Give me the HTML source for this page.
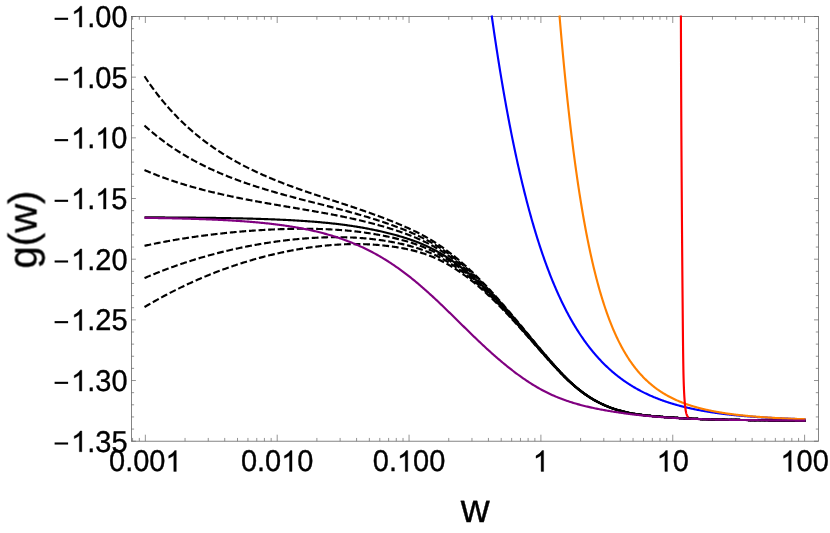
<!DOCTYPE html>
<html><head><meta charset="utf-8"><style>
html,body{margin:0;padding:0;background:#fff;}
svg{display:block}
text{font-family:"Liberation Sans",sans-serif;fill:#000;text-rendering:geometricPrecision}
</style></head><body>
<svg width="830" height="533" viewBox="0 0 830 533">
<rect width="830" height="533" fill="#fff"/>
<g fill="none" stroke="#666666" stroke-width="0.8">
<rect x="131.4" y="16.5" width="687.1" height="424.7"/>
<path d="M145.35 441.2 v-6.5 M145.35 16.5 v6.5 M185.04 441.2 v-3.25 M185.04 16.5 v3.25 M208.26 441.2 v-3.25 M208.26 16.5 v3.25 M224.73 441.2 v-3.25 M224.73 16.5 v3.25 M237.51 441.2 v-3.25 M237.51 16.5 v3.25 M247.95 441.2 v-3.25 M247.95 16.5 v3.25 M256.78 441.2 v-3.25 M256.78 16.5 v3.25 M264.42 441.2 v-3.25 M264.42 16.5 v3.25 M271.17 441.2 v-3.25 M271.17 16.5 v3.25 M277.20 441.2 v-6.5 M277.20 16.5 v6.5 M316.89 441.2 v-3.25 M316.89 16.5 v3.25 M340.11 441.2 v-3.25 M340.11 16.5 v3.25 M356.58 441.2 v-3.25 M356.58 16.5 v3.25 M369.36 441.2 v-3.25 M369.36 16.5 v3.25 M379.80 441.2 v-3.25 M379.80 16.5 v3.25 M388.63 441.2 v-3.25 M388.63 16.5 v3.25 M396.27 441.2 v-3.25 M396.27 16.5 v3.25 M403.02 441.2 v-3.25 M403.02 16.5 v3.25 M409.05 441.2 v-6.5 M409.05 16.5 v6.5 M448.74 441.2 v-3.25 M448.74 16.5 v3.25 M471.96 441.2 v-3.25 M471.96 16.5 v3.25 M488.43 441.2 v-3.25 M488.43 16.5 v3.25 M501.21 441.2 v-3.25 M501.21 16.5 v3.25 M511.65 441.2 v-3.25 M511.65 16.5 v3.25 M520.48 441.2 v-3.25 M520.48 16.5 v3.25 M528.12 441.2 v-3.25 M528.12 16.5 v3.25 M534.87 441.2 v-3.25 M534.87 16.5 v3.25 M540.90 441.2 v-6.5 M540.90 16.5 v6.5 M580.59 441.2 v-3.25 M580.59 16.5 v3.25 M603.81 441.2 v-3.25 M603.81 16.5 v3.25 M620.28 441.2 v-3.25 M620.28 16.5 v3.25 M633.06 441.2 v-3.25 M633.06 16.5 v3.25 M643.50 441.2 v-3.25 M643.50 16.5 v3.25 M652.33 441.2 v-3.25 M652.33 16.5 v3.25 M659.97 441.2 v-3.25 M659.97 16.5 v3.25 M666.72 441.2 v-3.25 M666.72 16.5 v3.25 M672.75 441.2 v-6.5 M672.75 16.5 v6.5 M712.44 441.2 v-3.25 M712.44 16.5 v3.25 M735.66 441.2 v-3.25 M735.66 16.5 v3.25 M752.13 441.2 v-3.25 M752.13 16.5 v3.25 M764.91 441.2 v-3.25 M764.91 16.5 v3.25 M775.35 441.2 v-3.25 M775.35 16.5 v3.25 M784.18 441.2 v-3.25 M784.18 16.5 v3.25 M791.82 441.2 v-3.25 M791.82 16.5 v3.25 M798.57 441.2 v-3.25 M798.57 16.5 v3.25 M804.60 441.2 v-6.5 M804.60 16.5 v6.5 M132.57 441.2 v-3.25 M132.57 16.5 v3.25 M139.32 441.2 v-3.25 M139.32 16.5 v3.25 M131.4 16.50 h4.5 M818.5 16.50 h-4.5 M131.4 28.63 h2.7 M818.5 28.63 h-2.7 M131.4 40.77 h2.7 M818.5 40.77 h-2.7 M131.4 52.90 h2.7 M818.5 52.90 h-2.7 M131.4 65.04 h2.7 M818.5 65.04 h-2.7 M131.4 77.17 h4.5 M818.5 77.17 h-4.5 M131.4 89.31 h2.7 M818.5 89.31 h-2.7 M131.4 101.44 h2.7 M818.5 101.44 h-2.7 M131.4 113.57 h2.7 M818.5 113.57 h-2.7 M131.4 125.71 h2.7 M818.5 125.71 h-2.7 M131.4 137.84 h4.5 M818.5 137.84 h-4.5 M131.4 149.98 h2.7 M818.5 149.98 h-2.7 M131.4 162.11 h2.7 M818.5 162.11 h-2.7 M131.4 174.25 h2.7 M818.5 174.25 h-2.7 M131.4 186.38 h2.7 M818.5 186.38 h-2.7 M131.4 198.51 h4.5 M818.5 198.51 h-4.5 M131.4 210.65 h2.7 M818.5 210.65 h-2.7 M131.4 222.78 h2.7 M818.5 222.78 h-2.7 M131.4 234.92 h2.7 M818.5 234.92 h-2.7 M131.4 247.05 h2.7 M818.5 247.05 h-2.7 M131.4 259.19 h4.5 M818.5 259.19 h-4.5 M131.4 271.32 h2.7 M818.5 271.32 h-2.7 M131.4 283.45 h2.7 M818.5 283.45 h-2.7 M131.4 295.59 h2.7 M818.5 295.59 h-2.7 M131.4 307.72 h2.7 M818.5 307.72 h-2.7 M131.4 319.86 h4.5 M818.5 319.86 h-4.5 M131.4 331.99 h2.7 M818.5 331.99 h-2.7 M131.4 344.13 h2.7 M818.5 344.13 h-2.7 M131.4 356.26 h2.7 M818.5 356.26 h-2.7 M131.4 368.39 h2.7 M818.5 368.39 h-2.7 M131.4 380.53 h4.5 M818.5 380.53 h-4.5 M131.4 392.66 h2.7 M818.5 392.66 h-2.7 M131.4 404.80 h2.7 M818.5 404.80 h-2.7 M131.4 416.93 h2.7 M818.5 416.93 h-2.7 M131.4 429.07 h2.7 M818.5 429.07 h-2.7 M131.4 441.20 h4.5 M818.5 441.20 h-4.5" stroke="#666666" stroke-width="0.7"/>
</g>
<g fill="none" stroke-linejoin="round">
<g stroke="#000" stroke-width="2.15" stroke-dasharray="6.8 2.8">
<path d="M144.50 76.26 L145.50 77.77 L146.50 79.26 L147.50 80.73 L148.50 82.19 L149.50 83.62 L150.50 85.04 L151.50 86.43 L152.50 87.82 L153.50 89.18 L154.50 90.53 L155.50 91.86 L156.50 93.17 L157.50 94.47 L158.50 95.75 L159.50 97.01 L160.50 98.26 L161.50 99.50 L162.50 100.72 L163.50 101.93 L164.50 103.12 L165.50 104.29 L166.50 105.46 L167.50 106.61 L168.50 107.74 L169.50 108.87 L170.50 109.98 L171.50 111.07 L172.50 112.16 L173.50 113.23 L174.50 114.28 L175.50 115.33 L176.50 116.37 L177.50 117.39 L178.50 118.40 L179.50 119.40 L180.50 120.39 L181.50 121.36 L182.50 122.33 L183.50 123.29 L184.50 124.23 L185.50 125.16 L186.50 126.09 L187.50 127.00 L188.50 127.90 L189.50 128.80 L190.50 129.68 L191.50 130.56 L192.50 131.42 L193.50 132.28 L194.50 133.12 L195.50 133.96 L196.50 134.79 L197.50 135.61 L198.50 136.42 L199.50 137.22 L200.50 138.01 L201.50 138.80 L202.50 139.57 L203.50 140.34 L204.50 141.10 L205.50 141.86 L206.50 142.60 L207.50 143.34 L208.50 144.07 L209.50 144.79 L210.50 145.50 L211.50 146.21 L212.50 146.91 L213.50 147.61 L214.50 148.29 L215.50 148.97 L216.50 149.65 L217.50 150.31 L218.50 150.97 L219.50 151.63 L220.50 152.27 L221.50 152.91 L222.50 153.55 L223.50 154.17 L224.50 154.80 L225.50 155.41 L226.50 156.02 L227.50 156.63 L228.50 157.23 L229.50 157.82 L230.50 158.41 L231.50 158.99 L232.50 159.57 L233.50 160.14 L234.50 160.70 L235.50 161.27 L236.50 161.82 L237.50 162.37 L238.50 162.92 L239.50 163.46 L240.50 164.00 L241.50 164.53 L242.50 165.05 L243.50 165.58 L244.50 166.09 L245.50 166.61 L246.50 167.11 L247.50 167.62 L248.50 168.12 L249.50 168.62 L250.50 169.11 L251.50 169.59 L252.50 170.08 L253.50 170.56 L254.50 171.03 L255.50 171.50 L256.50 171.97 L257.50 172.44 L258.50 172.90 L259.50 173.35 L260.50 173.81 L261.50 174.26 L262.50 174.70 L263.50 175.15 L264.50 175.59 L265.50 176.02 L266.50 176.46 L267.50 176.89 L268.50 177.31 L269.50 177.74 L270.50 178.16 L271.50 178.58 L272.50 178.99 L273.50 179.40 L274.50 179.81 L275.50 180.22 L276.50 180.62 L277.50 181.02 L278.50 181.42 L279.50 181.82 L280.50 182.21 L281.50 182.60 L282.50 182.99 L283.50 183.38 L284.50 183.76 L285.50 184.14 L286.50 184.52 L287.50 184.90 L288.50 185.27 L289.50 185.64 L290.50 186.02 L291.50 186.38 L292.50 186.75 L293.50 187.12 L294.50 187.48 L295.50 187.84 L296.50 188.20 L297.50 188.56 L298.50 188.91 L299.50 189.27 L300.50 189.62 L301.50 189.97 L302.50 190.32 L303.50 190.67 L304.50 191.02 L305.50 191.37 L306.50 191.71 L307.50 192.05 L308.50 192.40 L309.50 192.74 L310.50 193.08 L311.50 193.42 L312.50 193.75 L313.50 194.09 L314.50 194.43 L315.50 194.76 L316.50 195.10 L317.50 195.43 L318.50 195.76 L319.50 196.09 L320.50 196.43 L321.50 196.76 L322.50 197.09 L323.50 197.42 L324.50 197.75 L325.50 198.07 L326.50 198.40 L327.50 198.73 L328.50 199.06 L329.50 199.39 L330.50 199.71 L331.50 200.04 L332.50 200.37 L333.50 200.70 L334.50 201.02 L335.50 201.35 L336.50 201.68 L337.50 202.01 L338.50 202.33 L339.50 202.66 L340.50 202.99 L341.50 203.32 L342.50 203.65 L343.50 203.98 L344.50 204.31 L345.50 204.64 L346.50 204.97 L347.50 205.30 L348.50 205.63 L349.50 205.97 L350.50 206.30 L351.50 206.63 L352.50 206.97 L353.50 207.31 L354.50 207.64 L355.50 207.98 L356.50 208.32 L357.50 208.66 L358.50 209.00 L359.50 209.34 L360.50 209.69 L361.50 210.03 L362.50 210.38 L363.50 210.73 L364.50 211.08 L365.50 211.43 L366.50 211.78 L367.50 212.13 L368.50 212.48 L369.50 212.84 L370.50 213.20 L371.50 213.55 L372.50 213.92 L373.50 214.28 L374.50 214.64 L375.50 215.01 L376.50 215.37 L377.50 215.74 L378.50 216.11 L379.50 216.48 L380.50 216.86 L381.50 217.23 L382.50 217.61 L383.50 217.99 L384.50 218.37 L385.50 218.76 L386.50 219.14 L387.50 219.53 L388.50 219.92 L389.50 220.31 L390.50 220.71 L391.50 221.10 L392.50 221.50 L393.50 221.91 L394.50 222.31 L395.50 222.72 L396.50 223.13 L397.50 223.54 L398.50 223.96 L399.50 224.37 L400.50 224.80 L401.50 225.22 L402.50 225.65 L403.50 226.08 L404.50 226.52 L405.50 226.96 L406.50 227.40 L407.50 227.85 L408.50 228.30 L409.50 228.75 L410.50 229.21 L411.50 229.68 L412.50 230.15 L413.50 230.63 L414.50 231.11 L415.50 231.59 L416.50 232.08 L417.50 232.58 L418.50 233.08 L419.50 233.59 L420.50 234.11 L421.50 234.63 L422.50 235.16 L423.50 235.70 L424.50 236.24 L425.50 236.79 L426.50 237.35 L427.50 237.91 L428.50 238.49 L429.50 239.07 L430.50 239.66 L431.50 240.26 L432.50 240.86 L433.50 241.48 L434.50 242.10 L435.50 242.73 L436.50 243.37 L437.50 244.02 L438.50 244.68 L439.50 245.35 L440.50 246.02 L441.50 246.71 L442.50 247.40 L443.50 248.11 L444.50 248.82 L445.50 249.54 L446.50 250.27 L447.50 251.01 L448.50 251.76 L449.50 252.52 L450.50 253.29 L451.50 254.07 L452.50 254.85 L453.50 255.65 L454.50 256.45 L455.50 257.26 L456.50 258.08 L457.50 258.91 L458.50 259.75 L459.50 260.60 L460.50 261.45 L461.50 262.32 L462.50 263.19 L463.50 264.07 L464.50 264.95 L465.50 265.85 L466.50 266.75 L467.50 267.67 L468.50 268.58 L469.50 269.51 L470.50 270.45 L471.50 271.39 L472.50 272.34 L473.50 273.29 L474.50 274.26 L475.50 275.23 L476.50 276.21 L477.50 277.19 L478.50 278.18 L479.50 279.18 L480.50 280.19 L481.50 281.20 L482.50 282.22 L483.50 283.24 L484.50 284.28 L485.50 285.31 L486.50 286.36 L487.50 287.41 L488.50 288.47 L489.50 289.53 L490.50 290.60 L491.50 291.68 L492.50 292.76 L493.50 293.85 L494.50 294.95 L495.50 296.05 L496.50 297.15 L497.50 298.26 L498.50 299.38 L499.50 300.50 L500.50 301.63 L501.50 302.77 L502.50 303.90 L503.50 305.05 L504.50 306.19 L505.50 307.35 L506.50 308.50 L507.50 309.67 L508.50 310.83 L509.50 312.00 L510.50 313.18 L511.50 314.35 L512.50 315.53 L513.50 316.72 L514.50 317.91 L515.50 319.10 L516.50 320.29 L517.50 321.49 L518.50 322.68 L519.50 323.88 L520.50 325.09 L521.50 326.29 L522.50 327.50 L523.50 328.70 L524.50 329.91 L525.50 331.12 L526.50 332.33 L527.50 333.54 L528.50 334.75 L529.50 335.96 L530.50 337.16 L531.50 338.37 L532.50 339.58 L533.50 340.78 L534.50 341.99 L535.50 343.19 L536.50 344.39 L537.50 345.59 L538.50 346.79 L539.50 347.98 L540.50 349.17 L541.50 350.36 L542.50 351.54 L543.50 352.72 L544.50 353.90 L545.50 355.07 L546.50 356.24 L547.50 357.41 L548.50 358.57 L549.50 359.72 L550.50 360.87 L551.50 362.02 L552.50 363.16 L553.50 364.29 L554.50 365.42 L555.50 366.54 L556.50 367.65 L557.50 368.75 L558.50 369.84 L559.50 370.93 L560.50 372.00 L561.50 373.06 L562.50 374.11 L563.50 375.15 L564.50 376.18 L565.50 377.20 L566.50 378.20 L567.50 379.18 L568.50 380.16 L569.50 381.11 L570.50 382.06 L571.50 382.99 L572.50 383.90 L573.50 384.80 L574.50 385.68 L575.50 386.55 L576.50 387.40 L577.50 388.24 L578.50 389.06 L579.50 389.86 L580.50 390.65 L581.50 391.43 L582.50 392.18 L583.50 392.93 L584.50 393.66 L585.50 394.37 L586.50 395.07 L587.50 395.75 L588.50 396.42 L589.50 397.08 L590.50 397.71 L591.50 398.34 L592.50 398.95 L593.50 399.54 L594.50 400.13 L595.50 400.69 L596.50 401.25 L597.50 401.79 L598.50 402.31 L599.50 402.82 L600.50 403.32 L601.50 403.81 L602.50 404.28 L603.50 404.74 L604.50 405.19 L605.50 405.63 L606.50 406.05 L607.50 406.46 L608.50 406.86 L609.50 407.25 L610.50 407.63 L611.50 407.99 L612.50 408.35 L613.50 408.69 L614.50 409.03 L615.50 409.35 L616.50 409.66 L617.50 409.97 L618.50 410.26 L619.50 410.55 L620.50 410.83 L621.50 411.09 L622.50 411.35 L623.50 411.61 L624.50 411.85 L625.50 412.08 L626.50 412.31 L627.50 412.53 L628.50 412.74 L629.50 412.95 L630.50 413.15 L631.50 413.34 L632.50 413.52 L633.50 413.70 L634.50 413.87 L635.50 414.04 L636.50 414.19 L637.50 414.35 L638.50 414.49 L639.50 414.64 L640.50 414.77 L641.50 414.90 L642.50 415.03 L643.50 415.15 L644.50 415.27 L645.50 415.38 L646.50 415.49 L647.50 415.60 L648.50 415.70 L649.50 415.80 L650.50 415.89 L651.50 415.99 L652.50 416.08 L653.50 416.17 L654.50 416.26 L655.50 416.34 L656.50 416.43 L657.50 416.51 L658.50 416.59 L659.50 416.67 L660.50 416.75 L661.50 416.83 L662.50 416.91 L663.50 416.98 L664.50 417.06 L665.50 417.13 L666.50 417.20 L667.50 417.28 L668.50 417.35 L669.50 417.42 L670.50 417.49 L671.50 417.55 L672.50 417.62 L673.50 417.69 L674.50 417.75 L675.50 417.82 L676.50 417.88 L677.50 417.94 L678.50 418.00 L679.50 418.06 L680.50 418.12 L681.50 418.18 L682.50 418.23 L683.50 418.29 L684.50 418.34 L685.50 418.39 L686.50 418.45 L687.50 418.50 L688.50 418.55 L689.50 418.59 L690.50 418.64 L691.50 418.69 L692.50 418.73 L693.50 418.78 L694.50 418.82 L695.50 418.86 L696.50 418.90 L697.50 418.94 L698.50 418.98 L699.50 419.02 L700.50 419.06 L701.50 419.09 L702.50 419.13 L703.50 419.16 L704.50 419.19 L705.50 419.23 L706.50 419.26 L707.50 419.29 L708.50 419.32 L709.50 419.35 L710.50 419.37 L711.50 419.40 L712.50 419.43 L713.50 419.45 L714.50 419.48 L715.50 419.50 L716.50 419.52 L717.50 419.55 L718.50 419.57 L719.50 419.59 L720.50 419.61 L721.50 419.63 L722.50 419.65 L723.50 419.67 L724.50 419.69 L725.50 419.71 L726.50 419.73 L727.50 419.74 L728.50 419.76 L729.50 419.78 L730.50 419.80 L731.50 419.81 L732.50 419.83 L733.50 419.84 L734.50 419.86 L735.50 419.88 L736.50 419.89 L737.50 419.91 L738.50 419.92 L739.50 419.94 L740.50 419.95 L741.50 419.97 L742.50 419.98 L743.50 419.99 L744.50 420.01 L745.50 420.02 L746.50 420.04 L747.50 420.05 L748.50 420.06 L749.50 420.08 L750.50 420.09 L751.50 420.10 L752.50 420.12 L753.50 420.13 L754.50 420.14 L755.50 420.16 L756.50 420.17 L757.50 420.18 L758.50 420.19 L759.50 420.21 L760.50 420.22 L761.50 420.23 L762.50 420.24 L763.50 420.25 L764.50 420.27 L765.50 420.28 L766.50 420.29 L767.50 420.30 L768.50 420.31 L769.50 420.32 L770.50 420.33 L771.50 420.34 L772.50 420.35 L773.50 420.36 L774.50 420.37 L775.50 420.38 L776.50 420.39 L777.50 420.40 L778.50 420.41 L779.50 420.42 L780.50 420.43 L781.50 420.44 L782.50 420.45 L783.50 420.46 L784.50 420.47 L785.50 420.47 L786.50 420.48 L787.50 420.49 L788.50 420.50 L789.50 420.51 L790.50 420.52 L791.50 420.52 L792.50 420.53 L793.50 420.54 L794.50 420.55 L795.50 420.55 L796.50 420.56 L797.50 420.57 L798.50 420.58 L799.50 420.58 L800.50 420.59 L801.50 420.60 L802.50 420.60 L803.50 420.61 L804.50 420.61 L805.50 420.62 L805.60 420.62"/><path d="M144.50 125.54 L145.50 126.45 L146.50 127.35 L147.50 128.24 L148.50 129.12 L149.50 129.99 L150.50 130.85 L151.50 131.70 L152.50 132.54 L153.50 133.37 L154.50 134.19 L155.50 135.00 L156.50 135.81 L157.50 136.61 L158.50 137.39 L159.50 138.17 L160.50 138.94 L161.50 139.70 L162.50 140.46 L163.50 141.20 L164.50 141.94 L165.50 142.67 L166.50 143.40 L167.50 144.11 L168.50 144.82 L169.50 145.52 L170.50 146.21 L171.50 146.90 L172.50 147.58 L173.50 148.25 L174.50 148.91 L175.50 149.57 L176.50 150.22 L177.50 150.87 L178.50 151.50 L179.50 152.14 L180.50 152.76 L181.50 153.38 L182.50 153.99 L183.50 154.60 L184.50 155.20 L185.50 155.79 L186.50 156.38 L187.50 156.96 L188.50 157.54 L189.50 158.11 L190.50 158.68 L191.50 159.24 L192.50 159.79 L193.50 160.34 L194.50 160.89 L195.50 161.42 L196.50 161.96 L197.50 162.49 L198.50 163.01 L199.50 163.53 L200.50 164.04 L201.50 164.55 L202.50 165.05 L203.50 165.55 L204.50 166.05 L205.50 166.54 L206.50 167.02 L207.50 167.50 L208.50 167.98 L209.50 168.45 L210.50 168.92 L211.50 169.38 L212.50 169.84 L213.50 170.30 L214.50 170.75 L215.50 171.20 L216.50 171.64 L217.50 172.08 L218.50 172.51 L219.50 172.94 L220.50 173.37 L221.50 173.80 L222.50 174.22 L223.50 174.63 L224.50 175.05 L225.50 175.46 L226.50 175.86 L227.50 176.26 L228.50 176.66 L229.50 177.06 L230.50 177.45 L231.50 177.84 L232.50 178.23 L233.50 178.61 L234.50 178.99 L235.50 179.37 L236.50 179.74 L237.50 180.11 L238.50 180.48 L239.50 180.84 L240.50 181.21 L241.50 181.57 L242.50 181.92 L243.50 182.28 L244.50 182.63 L245.50 182.98 L246.50 183.32 L247.50 183.67 L248.50 184.01 L249.50 184.35 L250.50 184.68 L251.50 185.01 L252.50 185.35 L253.50 185.68 L254.50 186.00 L255.50 186.33 L256.50 186.65 L257.50 186.97 L258.50 187.29 L259.50 187.60 L260.50 187.92 L261.50 188.23 L262.50 188.54 L263.50 188.84 L264.50 189.15 L265.50 189.45 L266.50 189.76 L267.50 190.06 L268.50 190.35 L269.50 190.65 L270.50 190.95 L271.50 191.24 L272.50 191.53 L273.50 191.82 L274.50 192.11 L275.50 192.40 L276.50 192.68 L277.50 192.97 L278.50 193.25 L279.50 193.53 L280.50 193.81 L281.50 194.09 L282.50 194.37 L283.50 194.64 L284.50 194.92 L285.50 195.19 L286.50 195.46 L287.50 195.74 L288.50 196.01 L289.50 196.28 L290.50 196.54 L291.50 196.81 L292.50 197.08 L293.50 197.34 L294.50 197.61 L295.50 197.87 L296.50 198.13 L297.50 198.40 L298.50 198.66 L299.50 198.92 L300.50 199.18 L301.50 199.44 L302.50 199.70 L303.50 199.96 L304.50 200.22 L305.50 200.47 L306.50 200.73 L307.50 200.99 L308.50 201.24 L309.50 201.50 L310.50 201.75 L311.50 202.01 L312.50 202.26 L313.50 202.52 L314.50 202.77 L315.50 203.03 L316.50 203.28 L317.50 203.54 L318.50 203.79 L319.50 204.05 L320.50 204.30 L321.50 204.56 L322.50 204.81 L323.50 205.07 L324.50 205.32 L325.50 205.58 L326.50 205.84 L327.50 206.09 L328.50 206.35 L329.50 206.61 L330.50 206.86 L331.50 207.12 L332.50 207.38 L333.50 207.64 L334.50 207.90 L335.50 208.16 L336.50 208.42 L337.50 208.68 L338.50 208.95 L339.50 209.21 L340.50 209.47 L341.50 209.74 L342.50 210.01 L343.50 210.27 L344.50 210.54 L345.50 210.81 L346.50 211.08 L347.50 211.35 L348.50 211.63 L349.50 211.90 L350.50 212.17 L351.50 212.45 L352.50 212.73 L353.50 213.01 L354.50 213.29 L355.50 213.57 L356.50 213.85 L357.50 214.14 L358.50 214.43 L359.50 214.71 L360.50 215.00 L361.50 215.30 L362.50 215.59 L363.50 215.88 L364.50 216.18 L365.50 216.48 L366.50 216.78 L367.50 217.08 L368.50 217.39 L369.50 217.69 L370.50 218.00 L371.50 218.31 L372.50 218.62 L373.50 218.93 L374.50 219.25 L375.50 219.57 L376.50 219.89 L377.50 220.21 L378.50 220.53 L379.50 220.86 L380.50 221.19 L381.50 221.52 L382.50 221.85 L383.50 222.19 L384.50 222.53 L385.50 222.87 L386.50 223.21 L387.50 223.55 L388.50 223.90 L389.50 224.25 L390.50 224.60 L391.50 224.96 L392.50 225.32 L393.50 225.68 L394.50 226.04 L395.50 226.41 L396.50 226.78 L397.50 227.15 L398.50 227.53 L399.50 227.91 L400.50 228.29 L401.50 228.68 L402.50 229.07 L403.50 229.46 L404.50 229.86 L405.50 230.26 L406.50 230.67 L407.50 231.08 L408.50 231.49 L409.50 231.91 L410.50 232.34 L411.50 232.77 L412.50 233.20 L413.50 233.64 L414.50 234.09 L415.50 234.54 L416.50 234.99 L417.50 235.46 L418.50 235.93 L419.50 236.40 L420.50 236.89 L421.50 237.37 L422.50 237.87 L423.50 238.37 L424.50 238.89 L425.50 239.40 L426.50 239.93 L427.50 240.46 L428.50 241.01 L429.50 241.56 L430.50 242.11 L431.50 242.68 L432.50 243.26 L433.50 243.84 L434.50 244.43 L435.50 245.04 L436.50 245.65 L437.50 246.27 L438.50 246.89 L439.50 247.53 L440.50 248.18 L441.50 248.84 L442.50 249.50 L443.50 250.18 L444.50 250.86 L445.50 251.56 L446.50 252.26 L447.50 252.98 L448.50 253.70 L449.50 254.43 L450.50 255.17 L451.50 255.92 L452.50 256.68 L453.50 257.45 L454.50 258.23 L455.50 259.01 L456.50 259.81 L457.50 260.61 L458.50 261.43 L459.50 262.25 L460.50 263.08 L461.50 263.92 L462.50 264.77 L463.50 265.62 L464.50 266.48 L465.50 267.36 L466.50 268.24 L467.50 269.12 L468.50 270.02 L469.50 270.92 L470.50 271.84 L471.50 272.76 L472.50 273.68 L473.50 274.62 L474.50 275.56 L475.50 276.51 L476.50 277.46 L477.50 278.43 L478.50 279.40 L479.50 280.38 L480.50 281.36 L481.50 282.35 L482.50 283.35 L483.50 284.36 L484.50 285.37 L485.50 286.39 L486.50 287.41 L487.50 288.45 L488.50 289.48 L489.50 290.53 L490.50 291.58 L491.50 292.64 L492.50 293.70 L493.50 294.77 L494.50 295.85 L495.50 296.93 L496.50 298.02 L497.50 299.11 L498.50 300.21 L499.50 301.32 L500.50 302.43 L501.50 303.55 L502.50 304.67 L503.50 305.80 L504.50 306.93 L505.50 308.06 L506.50 309.21 L507.50 310.35 L508.50 311.50 L509.50 312.66 L510.50 313.82 L511.50 314.98 L512.50 316.14 L513.50 317.31 L514.50 318.49 L515.50 319.66 L516.50 320.84 L517.50 322.03 L518.50 323.21 L519.50 324.40 L520.50 325.59 L521.50 326.78 L522.50 327.97 L523.50 329.17 L524.50 330.36 L525.50 331.56 L526.50 332.75 L527.50 333.95 L528.50 335.15 L529.50 336.35 L530.50 337.54 L531.50 338.74 L532.50 339.94 L533.50 341.13 L534.50 342.33 L535.50 343.52 L536.50 344.71 L537.50 345.90 L538.50 347.08 L539.50 348.27 L540.50 349.45 L541.50 350.63 L542.50 351.80 L543.50 352.98 L544.50 354.15 L545.50 355.31 L546.50 356.47 L547.50 357.63 L548.50 358.78 L549.50 359.93 L550.50 361.07 L551.50 362.21 L552.50 363.34 L553.50 364.47 L554.50 365.59 L555.50 366.70 L556.50 367.80 L557.50 368.90 L558.50 369.99 L559.50 371.06 L560.50 372.13 L561.50 373.19 L562.50 374.24 L563.50 375.27 L564.50 376.29 L565.50 377.30 L566.50 378.30 L567.50 379.28 L568.50 380.25 L569.50 381.20 L570.50 382.14 L571.50 383.07 L572.50 383.98 L573.50 384.87 L574.50 385.75 L575.50 386.61 L576.50 387.46 L577.50 388.29 L578.50 389.11 L579.50 389.92 L580.50 390.70 L581.50 391.47 L582.50 392.23 L583.50 392.97 L584.50 393.70 L585.50 394.41 L586.50 395.11 L587.50 395.79 L588.50 396.45 L589.50 397.11 L590.50 397.74 L591.50 398.36 L592.50 398.97 L593.50 399.57 L594.50 400.15 L595.50 400.71 L596.50 401.26 L597.50 401.80 L598.50 402.33 L599.50 402.84 L600.50 403.34 L601.50 403.82 L602.50 404.29 L603.50 404.75 L604.50 405.20 L605.50 405.63 L606.50 406.06 L607.50 406.47 L608.50 406.87 L609.50 407.25 L610.50 407.63 L611.50 408.00 L612.50 408.35 L613.50 408.70 L614.50 409.03 L615.50 409.35 L616.50 409.67 L617.50 409.97 L618.50 410.27 L619.50 410.55 L620.50 410.83 L621.50 411.10 L622.50 411.36 L623.50 411.61 L624.50 411.85 L625.50 412.09 L626.50 412.31 L627.50 412.53 L628.50 412.74 L629.50 412.95 L630.50 413.15 L631.50 413.34 L632.50 413.52 L633.50 413.70 L634.50 413.87 L635.50 414.04 L636.50 414.19 L637.50 414.35 L638.50 414.49 L639.50 414.64 L640.50 414.77 L641.50 414.90 L642.50 415.03 L643.50 415.15 L644.50 415.27 L645.50 415.38 L646.50 415.49 L647.50 415.60 L648.50 415.70 L649.50 415.80 L650.50 415.90 L651.50 415.99 L652.50 416.08 L653.50 416.17 L654.50 416.26 L655.50 416.34 L656.50 416.43 L657.50 416.51 L658.50 416.59 L659.50 416.67 L660.50 416.75 L661.50 416.83 L662.50 416.91 L663.50 416.98 L664.50 417.06 L665.50 417.13 L666.50 417.20 L667.50 417.28 L668.50 417.35 L669.50 417.42 L670.50 417.49 L671.50 417.55 L672.50 417.62 L673.50 417.69 L674.50 417.75 L675.50 417.82 L676.50 417.88 L677.50 417.94 L678.50 418.00 L679.50 418.06 L680.50 418.12 L681.50 418.18 L682.50 418.23 L683.50 418.29 L684.50 418.34 L685.50 418.39 L686.50 418.45 L687.50 418.50 L688.50 418.55 L689.50 418.59 L690.50 418.64 L691.50 418.69 L692.50 418.73 L693.50 418.78 L694.50 418.82 L695.50 418.86 L696.50 418.90 L697.50 418.94 L698.50 418.98 L699.50 419.02 L700.50 419.06 L701.50 419.09 L702.50 419.13 L703.50 419.16 L704.50 419.19 L705.50 419.23 L706.50 419.26 L707.50 419.29 L708.50 419.32 L709.50 419.35 L710.50 419.37 L711.50 419.40 L712.50 419.43 L713.50 419.45 L714.50 419.48 L715.50 419.50 L716.50 419.52 L717.50 419.55 L718.50 419.57 L719.50 419.59 L720.50 419.61 L721.50 419.63 L722.50 419.65 L723.50 419.67 L724.50 419.69 L725.50 419.71 L726.50 419.73 L727.50 419.74 L728.50 419.76 L729.50 419.78 L730.50 419.80 L731.50 419.81 L732.50 419.83 L733.50 419.84 L734.50 419.86 L735.50 419.88 L736.50 419.89 L737.50 419.91 L738.50 419.92 L739.50 419.94 L740.50 419.95 L741.50 419.97 L742.50 419.98 L743.50 419.99 L744.50 420.01 L745.50 420.02 L746.50 420.04 L747.50 420.05 L748.50 420.06 L749.50 420.08 L750.50 420.09 L751.50 420.10 L752.50 420.12 L753.50 420.13 L754.50 420.14 L755.50 420.16 L756.50 420.17 L757.50 420.18 L758.50 420.19 L759.50 420.21 L760.50 420.22 L761.50 420.23 L762.50 420.24 L763.50 420.25 L764.50 420.27 L765.50 420.28 L766.50 420.29 L767.50 420.30 L768.50 420.31 L769.50 420.32 L770.50 420.33 L771.50 420.34 L772.50 420.35 L773.50 420.36 L774.50 420.37 L775.50 420.38 L776.50 420.39 L777.50 420.40 L778.50 420.41 L779.50 420.42 L780.50 420.43 L781.50 420.44 L782.50 420.45 L783.50 420.46 L784.50 420.47 L785.50 420.47 L786.50 420.48 L787.50 420.49 L788.50 420.50 L789.50 420.51 L790.50 420.52 L791.50 420.52 L792.50 420.53 L793.50 420.54 L794.50 420.55 L795.50 420.55 L796.50 420.56 L797.50 420.57 L798.50 420.58 L799.50 420.58 L800.50 420.59 L801.50 420.60 L802.50 420.60 L803.50 420.61 L804.50 420.61 L805.50 420.62 L805.60 420.62"/><path d="M144.50 170.04 L145.50 170.48 L146.50 170.91 L147.50 171.33 L148.50 171.76 L149.50 172.17 L150.50 172.59 L151.50 173.00 L152.50 173.41 L153.50 173.81 L154.50 174.21 L155.50 174.60 L156.50 174.99 L157.50 175.38 L158.50 175.77 L159.50 176.15 L160.50 176.52 L161.50 176.90 L162.50 177.27 L163.50 177.63 L164.50 178.00 L165.50 178.36 L166.50 178.71 L167.50 179.07 L168.50 179.42 L169.50 179.77 L170.50 180.11 L171.50 180.45 L172.50 180.79 L173.50 181.12 L174.50 181.46 L175.50 181.79 L176.50 182.11 L177.50 182.43 L178.50 182.76 L179.50 183.07 L180.50 183.39 L181.50 183.70 L182.50 184.01 L183.50 184.32 L184.50 184.62 L185.50 184.92 L186.50 185.22 L187.50 185.52 L188.50 185.81 L189.50 186.10 L190.50 186.39 L191.50 186.68 L192.50 186.96 L193.50 187.24 L194.50 187.52 L195.50 187.80 L196.50 188.07 L197.50 188.35 L198.50 188.62 L199.50 188.88 L200.50 189.15 L201.50 189.41 L202.50 189.67 L203.50 189.93 L204.50 190.19 L205.50 190.45 L206.50 190.70 L207.50 190.95 L208.50 191.20 L209.50 191.45 L210.50 191.69 L211.50 191.94 L212.50 192.18 L213.50 192.42 L214.50 192.66 L215.50 192.89 L216.50 193.13 L217.50 193.36 L218.50 193.59 L219.50 193.82 L220.50 194.05 L221.50 194.28 L222.50 194.50 L223.50 194.73 L224.50 194.95 L225.50 195.17 L226.50 195.39 L227.50 195.60 L228.50 195.82 L229.50 196.03 L230.50 196.25 L231.50 196.46 L232.50 196.67 L233.50 196.88 L234.50 197.08 L235.50 197.29 L236.50 197.49 L237.50 197.70 L238.50 197.90 L239.50 198.10 L240.50 198.30 L241.50 198.50 L242.50 198.70 L243.50 198.89 L244.50 199.09 L245.50 199.28 L246.50 199.48 L247.50 199.67 L248.50 199.86 L249.50 200.05 L250.50 200.24 L251.50 200.43 L252.50 200.61 L253.50 200.80 L254.50 200.98 L255.50 201.17 L256.50 201.35 L257.50 201.54 L258.50 201.72 L259.50 201.90 L260.50 202.08 L261.50 202.26 L262.50 202.44 L263.50 202.62 L264.50 202.79 L265.50 202.97 L266.50 203.15 L267.50 203.32 L268.50 203.50 L269.50 203.67 L270.50 203.85 L271.50 204.02 L272.50 204.20 L273.50 204.37 L274.50 204.54 L275.50 204.71 L276.50 204.88 L277.50 205.05 L278.50 205.23 L279.50 205.40 L280.50 205.57 L281.50 205.74 L282.50 205.91 L283.50 206.07 L284.50 206.24 L285.50 206.41 L286.50 206.58 L287.50 206.75 L288.50 206.92 L289.50 207.09 L290.50 207.25 L291.50 207.42 L292.50 207.59 L293.50 207.76 L294.50 207.93 L295.50 208.10 L296.50 208.26 L297.50 208.43 L298.50 208.60 L299.50 208.77 L300.50 208.94 L301.50 209.11 L302.50 209.28 L303.50 209.45 L304.50 209.62 L305.50 209.79 L306.50 209.96 L307.50 210.13 L308.50 210.30 L309.50 210.47 L310.50 210.64 L311.50 210.82 L312.50 210.99 L313.50 211.16 L314.50 211.34 L315.50 211.51 L316.50 211.69 L317.50 211.86 L318.50 212.04 L319.50 212.22 L320.50 212.40 L321.50 212.58 L322.50 212.76 L323.50 212.94 L324.50 213.12 L325.50 213.30 L326.50 213.49 L327.50 213.67 L328.50 213.86 L329.50 214.04 L330.50 214.23 L331.50 214.42 L332.50 214.61 L333.50 214.80 L334.50 214.99 L335.50 215.18 L336.50 215.38 L337.50 215.58 L338.50 215.77 L339.50 215.97 L340.50 216.17 L341.50 216.37 L342.50 216.58 L343.50 216.78 L344.50 216.99 L345.50 217.19 L346.50 217.40 L347.50 217.61 L348.50 217.83 L349.50 218.04 L350.50 218.26 L351.50 218.48 L352.50 218.70 L353.50 218.92 L354.50 219.14 L355.50 219.37 L356.50 219.59 L357.50 219.82 L358.50 220.05 L359.50 220.29 L360.50 220.52 L361.50 220.76 L362.50 221.00 L363.50 221.24 L364.50 221.48 L365.50 221.73 L366.50 221.98 L367.50 222.23 L368.50 222.48 L369.50 222.74 L370.50 222.99 L371.50 223.25 L372.50 223.52 L373.50 223.78 L374.50 224.05 L375.50 224.32 L376.50 224.59 L377.50 224.86 L378.50 225.14 L379.50 225.42 L380.50 225.70 L381.50 225.99 L382.50 226.27 L383.50 226.56 L384.50 226.86 L385.50 227.15 L386.50 227.45 L387.50 227.75 L388.50 228.05 L389.50 228.36 L390.50 228.67 L391.50 228.98 L392.50 229.30 L393.50 229.62 L394.50 229.94 L395.50 230.26 L396.50 230.59 L397.50 230.92 L398.50 231.26 L399.50 231.60 L400.50 231.94 L401.50 232.29 L402.50 232.64 L403.50 232.99 L404.50 233.35 L405.50 233.71 L406.50 234.08 L407.50 234.46 L408.50 234.83 L409.50 235.21 L410.50 235.60 L411.50 235.99 L412.50 236.39 L413.50 236.80 L414.50 237.21 L415.50 237.62 L416.50 238.04 L417.50 238.47 L418.50 238.90 L419.50 239.35 L420.50 239.79 L421.50 240.25 L422.50 240.71 L423.50 241.18 L424.50 241.66 L425.50 242.14 L426.50 242.64 L427.50 243.14 L428.50 243.65 L429.50 244.16 L430.50 244.69 L431.50 245.22 L432.50 245.77 L433.50 246.32 L434.50 246.88 L435.50 247.45 L436.50 248.03 L437.50 248.62 L438.50 249.22 L439.50 249.83 L440.50 250.45 L441.50 251.07 L442.50 251.71 L443.50 252.36 L444.50 253.01 L445.50 253.68 L446.50 254.35 L447.50 255.04 L448.50 255.73 L449.50 256.44 L450.50 257.15 L451.50 257.87 L452.50 258.60 L453.50 259.35 L454.50 260.10 L455.50 260.86 L456.50 261.62 L457.50 262.40 L458.50 263.19 L459.50 263.99 L460.50 264.79 L461.50 265.60 L462.50 266.43 L463.50 267.26 L464.50 268.09 L465.50 268.94 L466.50 269.80 L467.50 270.66 L468.50 271.53 L469.50 272.41 L470.50 273.30 L471.50 274.20 L472.50 275.10 L473.50 276.01 L474.50 276.93 L475.50 277.86 L476.50 278.79 L477.50 279.73 L478.50 280.68 L479.50 281.64 L480.50 282.60 L481.50 283.57 L482.50 284.55 L483.50 285.53 L484.50 286.52 L485.50 287.52 L486.50 288.52 L487.50 289.54 L488.50 290.55 L489.50 291.58 L490.50 292.61 L491.50 293.65 L492.50 294.69 L493.50 295.75 L494.50 296.80 L495.50 297.87 L496.50 298.94 L497.50 300.01 L498.50 301.09 L499.50 302.18 L500.50 303.27 L501.50 304.37 L502.50 305.48 L503.50 306.59 L504.50 307.70 L505.50 308.82 L506.50 309.95 L507.50 311.07 L508.50 312.21 L509.50 313.35 L510.50 314.49 L511.50 315.64 L512.50 316.79 L513.50 317.94 L514.50 319.10 L515.50 320.26 L516.50 321.43 L517.50 322.60 L518.50 323.77 L519.50 324.94 L520.50 326.12 L521.50 327.29 L522.50 328.47 L523.50 329.65 L524.50 330.84 L525.50 332.02 L526.50 333.20 L527.50 334.39 L528.50 335.58 L529.50 336.76 L530.50 337.95 L531.50 339.13 L532.50 340.32 L533.50 341.50 L534.50 342.68 L535.50 343.87 L536.50 345.05 L537.50 346.22 L538.50 347.40 L539.50 348.57 L540.50 349.75 L541.50 350.92 L542.50 352.08 L543.50 353.24 L544.50 354.40 L545.50 355.56 L546.50 356.71 L547.50 357.86 L548.50 359.01 L549.50 360.15 L550.50 361.28 L551.50 362.41 L552.50 363.54 L553.50 364.65 L554.50 365.77 L555.50 366.87 L556.50 367.97 L557.50 369.06 L558.50 370.14 L559.50 371.21 L560.50 372.27 L561.50 373.33 L562.50 374.37 L563.50 375.40 L564.50 376.41 L565.50 377.42 L566.50 378.41 L567.50 379.39 L568.50 380.35 L569.50 381.30 L570.50 382.23 L571.50 383.15 L572.50 384.06 L573.50 384.95 L574.50 385.82 L575.50 386.68 L576.50 387.53 L577.50 388.36 L578.50 389.17 L579.50 389.97 L580.50 390.76 L581.50 391.52 L582.50 392.28 L583.50 393.02 L584.50 393.74 L585.50 394.45 L586.50 395.14 L587.50 395.82 L588.50 396.49 L589.50 397.14 L590.50 397.77 L591.50 398.39 L592.50 399.00 L593.50 399.59 L594.50 400.17 L595.50 400.73 L596.50 401.28 L597.50 401.82 L598.50 402.34 L599.50 402.85 L600.50 403.35 L601.50 403.84 L602.50 404.31 L603.50 404.77 L604.50 405.21 L605.50 405.64 L606.50 406.07 L607.50 406.48 L608.50 406.87 L609.50 407.26 L610.50 407.64 L611.50 408.00 L612.50 408.36 L613.50 408.70 L614.50 409.03 L615.50 409.36 L616.50 409.67 L617.50 409.97 L618.50 410.27 L619.50 410.55 L620.50 410.83 L621.50 411.10 L622.50 411.36 L623.50 411.61 L624.50 411.85 L625.50 412.09 L626.50 412.31 L627.50 412.53 L628.50 412.75 L629.50 412.95 L630.50 413.15 L631.50 413.34 L632.50 413.52 L633.50 413.70 L634.50 413.87 L635.50 414.04 L636.50 414.19 L637.50 414.35 L638.50 414.49 L639.50 414.64 L640.50 414.77 L641.50 414.90 L642.50 415.03 L643.50 415.15 L644.50 415.27 L645.50 415.38 L646.50 415.49 L647.50 415.60 L648.50 415.70 L649.50 415.80 L650.50 415.90 L651.50 415.99 L652.50 416.08 L653.50 416.17 L654.50 416.26 L655.50 416.34 L656.50 416.43 L657.50 416.51 L658.50 416.59 L659.50 416.67 L660.50 416.75 L661.50 416.83 L662.50 416.91 L663.50 416.98 L664.50 417.06 L665.50 417.13 L666.50 417.20 L667.50 417.28 L668.50 417.35 L669.50 417.42 L670.50 417.49 L671.50 417.55 L672.50 417.62 L673.50 417.69 L674.50 417.75 L675.50 417.82 L676.50 417.88 L677.50 417.94 L678.50 418.00 L679.50 418.06 L680.50 418.12 L681.50 418.18 L682.50 418.23 L683.50 418.29 L684.50 418.34 L685.50 418.39 L686.50 418.45 L687.50 418.50 L688.50 418.55 L689.50 418.59 L690.50 418.64 L691.50 418.69 L692.50 418.73 L693.50 418.78 L694.50 418.82 L695.50 418.86 L696.50 418.90 L697.50 418.94 L698.50 418.98 L699.50 419.02 L700.50 419.06 L701.50 419.09 L702.50 419.13 L703.50 419.16 L704.50 419.19 L705.50 419.23 L706.50 419.26 L707.50 419.29 L708.50 419.32 L709.50 419.35 L710.50 419.37 L711.50 419.40 L712.50 419.43 L713.50 419.45 L714.50 419.48 L715.50 419.50 L716.50 419.52 L717.50 419.55 L718.50 419.57 L719.50 419.59 L720.50 419.61 L721.50 419.63 L722.50 419.65 L723.50 419.67 L724.50 419.69 L725.50 419.71 L726.50 419.73 L727.50 419.74 L728.50 419.76 L729.50 419.78 L730.50 419.80 L731.50 419.81 L732.50 419.83 L733.50 419.84 L734.50 419.86 L735.50 419.88 L736.50 419.89 L737.50 419.91 L738.50 419.92 L739.50 419.94 L740.50 419.95 L741.50 419.97 L742.50 419.98 L743.50 419.99 L744.50 420.01 L745.50 420.02 L746.50 420.04 L747.50 420.05 L748.50 420.06 L749.50 420.08 L750.50 420.09 L751.50 420.10 L752.50 420.12 L753.50 420.13 L754.50 420.14 L755.50 420.16 L756.50 420.17 L757.50 420.18 L758.50 420.19 L759.50 420.21 L760.50 420.22 L761.50 420.23 L762.50 420.24 L763.50 420.25 L764.50 420.27 L765.50 420.28 L766.50 420.29 L767.50 420.30 L768.50 420.31 L769.50 420.32 L770.50 420.33 L771.50 420.34 L772.50 420.35 L773.50 420.36 L774.50 420.37 L775.50 420.38 L776.50 420.39 L777.50 420.40 L778.50 420.41 L779.50 420.42 L780.50 420.43 L781.50 420.44 L782.50 420.45 L783.50 420.46 L784.50 420.47 L785.50 420.47 L786.50 420.48 L787.50 420.49 L788.50 420.50 L789.50 420.51 L790.50 420.52 L791.50 420.52 L792.50 420.53 L793.50 420.54 L794.50 420.55 L795.50 420.55 L796.50 420.56 L797.50 420.57 L798.50 420.58 L799.50 420.58 L800.50 420.59 L801.50 420.60 L802.50 420.60 L803.50 420.61 L804.50 420.61 L805.50 420.62 L805.60 420.62"/><path d="M144.50 245.79 L145.50 245.58 L146.50 245.36 L147.50 245.15 L148.50 244.93 L149.50 244.72 L150.50 244.52 L151.50 244.31 L152.50 244.10 L153.50 243.90 L154.50 243.70 L155.50 243.50 L156.50 243.30 L157.50 243.10 L158.50 242.91 L159.50 242.71 L160.50 242.52 L161.50 242.33 L162.50 242.14 L163.50 241.95 L164.50 241.76 L165.50 241.58 L166.50 241.40 L167.50 241.21 L168.50 241.03 L169.50 240.86 L170.50 240.68 L171.50 240.50 L172.50 240.33 L173.50 240.15 L174.50 239.98 L175.50 239.81 L176.50 239.64 L177.50 239.48 L178.50 239.31 L179.50 239.15 L180.50 238.98 L181.50 238.82 L182.50 238.66 L183.50 238.50 L184.50 238.34 L185.50 238.19 L186.50 238.03 L187.50 237.88 L188.50 237.73 L189.50 237.58 L190.50 237.43 L191.50 237.28 L192.50 237.13 L193.50 236.99 L194.50 236.85 L195.50 236.70 L196.50 236.56 L197.50 236.42 L198.50 236.28 L199.50 236.15 L200.50 236.01 L201.50 235.88 L202.50 235.74 L203.50 235.61 L204.50 235.48 L205.50 235.35 L206.50 235.22 L207.50 235.09 L208.50 234.97 L209.50 234.84 L210.50 234.72 L211.50 234.60 L212.50 234.48 L213.50 234.36 L214.50 234.24 L215.50 234.12 L216.50 234.01 L217.50 233.89 L218.50 233.78 L219.50 233.67 L220.50 233.56 L221.50 233.45 L222.50 233.34 L223.50 233.23 L224.50 233.13 L225.50 233.02 L226.50 232.92 L227.50 232.82 L228.50 232.72 L229.50 232.62 L230.50 232.52 L231.50 232.42 L232.50 232.33 L233.50 232.23 L234.50 232.14 L235.50 232.05 L236.50 231.95 L237.50 231.86 L238.50 231.78 L239.50 231.69 L240.50 231.60 L241.50 231.52 L242.50 231.43 L243.50 231.35 L244.50 231.27 L245.50 231.19 L246.50 231.11 L247.50 231.03 L248.50 230.96 L249.50 230.88 L250.50 230.81 L251.50 230.73 L252.50 230.66 L253.50 230.59 L254.50 230.52 L255.50 230.46 L256.50 230.39 L257.50 230.32 L258.50 230.26 L259.50 230.20 L260.50 230.14 L261.50 230.08 L262.50 230.02 L263.50 229.96 L264.50 229.90 L265.50 229.85 L266.50 229.79 L267.50 229.74 L268.50 229.69 L269.50 229.64 L270.50 229.59 L271.50 229.54 L272.50 229.50 L273.50 229.45 L274.50 229.41 L275.50 229.37 L276.50 229.33 L277.50 229.29 L278.50 229.25 L279.50 229.21 L280.50 229.18 L281.50 229.14 L282.50 229.11 L283.50 229.08 L284.50 229.05 L285.50 229.02 L286.50 228.99 L287.50 228.97 L288.50 228.94 L289.50 228.92 L290.50 228.90 L291.50 228.88 L292.50 228.86 L293.50 228.85 L294.50 228.83 L295.50 228.82 L296.50 228.80 L297.50 228.79 L298.50 228.79 L299.50 228.78 L300.50 228.77 L301.50 228.77 L302.50 228.77 L303.50 228.76 L304.50 228.77 L305.50 228.77 L306.50 228.77 L307.50 228.78 L308.50 228.78 L309.50 228.79 L310.50 228.80 L311.50 228.82 L312.50 228.83 L313.50 228.85 L314.50 228.87 L315.50 228.89 L316.50 228.91 L317.50 228.93 L318.50 228.96 L319.50 228.98 L320.50 229.01 L321.50 229.04 L322.50 229.08 L323.50 229.11 L324.50 229.15 L325.50 229.19 L326.50 229.23 L327.50 229.27 L328.50 229.32 L329.50 229.37 L330.50 229.42 L331.50 229.47 L332.50 229.52 L333.50 229.58 L334.50 229.64 L335.50 229.70 L336.50 229.76 L337.50 229.82 L338.50 229.89 L339.50 229.96 L340.50 230.03 L341.50 230.11 L342.50 230.19 L343.50 230.27 L344.50 230.35 L345.50 230.43 L346.50 230.52 L347.50 230.61 L348.50 230.70 L349.50 230.80 L350.50 230.90 L351.50 231.00 L352.50 231.10 L353.50 231.20 L354.50 231.31 L355.50 231.42 L356.50 231.54 L357.50 231.66 L358.50 231.78 L359.50 231.90 L360.50 232.02 L361.50 232.15 L362.50 232.28 L363.50 232.42 L364.50 232.55 L365.50 232.69 L366.50 232.84 L367.50 232.98 L368.50 233.13 L369.50 233.28 L370.50 233.44 L371.50 233.60 L372.50 233.76 L373.50 233.92 L374.50 234.09 L375.50 234.26 L376.50 234.44 L377.50 234.61 L378.50 234.79 L379.50 234.98 L380.50 235.16 L381.50 235.35 L382.50 235.55 L383.50 235.74 L384.50 235.94 L385.50 236.15 L386.50 236.35 L387.50 236.57 L388.50 236.78 L389.50 237.00 L390.50 237.22 L391.50 237.44 L392.50 237.67 L393.50 237.90 L394.50 238.14 L395.50 238.38 L396.50 238.62 L397.50 238.87 L398.50 239.12 L399.50 239.38 L400.50 239.64 L401.50 239.90 L402.50 240.17 L403.50 240.44 L404.50 240.72 L405.50 241.01 L406.50 241.29 L407.50 241.59 L408.50 241.89 L409.50 242.19 L410.50 242.50 L411.50 242.82 L412.50 243.14 L413.50 243.47 L414.50 243.80 L415.50 244.14 L416.50 244.49 L417.50 244.85 L418.50 245.21 L419.50 245.58 L420.50 245.95 L421.50 246.33 L422.50 246.73 L423.50 247.12 L424.50 247.53 L425.50 247.95 L426.50 248.37 L427.50 248.80 L428.50 249.24 L429.50 249.69 L430.50 250.15 L431.50 250.62 L432.50 251.10 L433.50 251.58 L434.50 252.08 L435.50 252.59 L436.50 253.10 L437.50 253.63 L438.50 254.16 L439.50 254.71 L440.50 255.26 L441.50 255.83 L442.50 256.40 L443.50 256.99 L444.50 257.58 L445.50 258.19 L446.50 258.80 L447.50 259.42 L448.50 260.06 L449.50 260.70 L450.50 261.36 L451.50 262.02 L452.50 262.70 L453.50 263.38 L454.50 264.08 L455.50 264.78 L456.50 265.49 L457.50 266.21 L458.50 266.95 L459.50 267.69 L460.50 268.44 L461.50 269.20 L462.50 269.96 L463.50 270.74 L464.50 271.53 L465.50 272.32 L466.50 273.13 L467.50 273.94 L468.50 274.76 L469.50 275.59 L470.50 276.43 L471.50 277.27 L472.50 278.13 L473.50 278.99 L474.50 279.86 L475.50 280.74 L476.50 281.62 L477.50 282.51 L478.50 283.42 L479.50 284.33 L480.50 285.24 L481.50 286.17 L482.50 287.10 L483.50 288.04 L484.50 288.98 L485.50 289.94 L486.50 290.90 L487.50 291.87 L488.50 292.84 L489.50 293.83 L490.50 294.82 L491.50 295.81 L492.50 296.82 L493.50 297.83 L494.50 298.84 L495.50 299.87 L496.50 300.90 L497.50 301.93 L498.50 302.97 L499.50 304.02 L500.50 305.08 L501.50 306.14 L502.50 307.21 L503.50 308.28 L504.50 309.36 L505.50 310.44 L506.50 311.53 L507.50 312.63 L508.50 313.72 L509.50 314.83 L510.50 315.94 L511.50 317.05 L512.50 318.17 L513.50 319.29 L514.50 320.42 L515.50 321.55 L516.50 322.68 L517.50 323.82 L518.50 324.96 L519.50 326.10 L520.50 327.25 L521.50 328.40 L522.50 329.55 L523.50 330.70 L524.50 331.86 L525.50 333.01 L526.50 334.17 L527.50 335.33 L528.50 336.49 L529.50 337.65 L530.50 338.81 L531.50 339.97 L532.50 341.13 L533.50 342.29 L534.50 343.45 L535.50 344.61 L536.50 345.77 L537.50 346.92 L538.50 348.08 L539.50 349.23 L540.50 350.38 L541.50 351.53 L542.50 352.68 L543.50 353.82 L544.50 354.96 L545.50 356.10 L546.50 357.23 L547.50 358.36 L548.50 359.49 L549.50 360.61 L550.50 361.73 L551.50 362.85 L552.50 363.95 L553.50 365.06 L554.50 366.15 L555.50 367.24 L556.50 368.33 L557.50 369.40 L558.50 370.47 L559.50 371.53 L560.50 372.58 L561.50 373.62 L562.50 374.65 L563.50 375.66 L564.50 376.67 L565.50 377.66 L566.50 378.64 L567.50 379.61 L568.50 380.56 L569.50 381.50 L570.50 382.43 L571.50 383.34 L572.50 384.23 L573.50 385.12 L574.50 385.98 L575.50 386.83 L576.50 387.67 L577.50 388.49 L578.50 389.30 L579.50 390.09 L580.50 390.87 L581.50 391.63 L582.50 392.38 L583.50 393.11 L584.50 393.83 L585.50 394.54 L586.50 395.23 L587.50 395.90 L588.50 396.56 L589.50 397.20 L590.50 397.84 L591.50 398.45 L592.50 399.05 L593.50 399.64 L594.50 400.22 L595.50 400.78 L596.50 401.33 L597.50 401.86 L598.50 402.38 L599.50 402.89 L600.50 403.38 L601.50 403.86 L602.50 404.33 L603.50 404.79 L604.50 405.23 L605.50 405.67 L606.50 406.09 L607.50 406.49 L608.50 406.89 L609.50 407.28 L610.50 407.65 L611.50 408.02 L612.50 408.37 L613.50 408.71 L614.50 409.04 L615.50 409.37 L616.50 409.68 L617.50 409.98 L618.50 410.28 L619.50 410.56 L620.50 410.84 L621.50 411.10 L622.50 411.36 L623.50 411.61 L624.50 411.86 L625.50 412.09 L626.50 412.32 L627.50 412.54 L628.50 412.75 L629.50 412.95 L630.50 413.15 L631.50 413.34 L632.50 413.52 L633.50 413.70 L634.50 413.87 L635.50 414.04 L636.50 414.20 L637.50 414.35 L638.50 414.50 L639.50 414.64 L640.50 414.77 L641.50 414.90 L642.50 415.03 L643.50 415.15 L644.50 415.27 L645.50 415.38 L646.50 415.49 L647.50 415.60 L648.50 415.70 L649.50 415.80 L650.50 415.90 L651.50 415.99 L652.50 416.08 L653.50 416.17 L654.50 416.26 L655.50 416.34 L656.50 416.43 L657.50 416.51 L658.50 416.59 L659.50 416.67 L660.50 416.75 L661.50 416.83 L662.50 416.91 L663.50 416.98 L664.50 417.06 L665.50 417.13 L666.50 417.20 L667.50 417.28 L668.50 417.35 L669.50 417.42 L670.50 417.49 L671.50 417.55 L672.50 417.62 L673.50 417.69 L674.50 417.75 L675.50 417.82 L676.50 417.88 L677.50 417.94 L678.50 418.00 L679.50 418.06 L680.50 418.12 L681.50 418.18 L682.50 418.23 L683.50 418.29 L684.50 418.34 L685.50 418.39 L686.50 418.45 L687.50 418.50 L688.50 418.55 L689.50 418.59 L690.50 418.64 L691.50 418.69 L692.50 418.73 L693.50 418.78 L694.50 418.82 L695.50 418.86 L696.50 418.90 L697.50 418.94 L698.50 418.98 L699.50 419.02 L700.50 419.06 L701.50 419.09 L702.50 419.13 L703.50 419.16 L704.50 419.19 L705.50 419.23 L706.50 419.26 L707.50 419.29 L708.50 419.32 L709.50 419.35 L710.50 419.37 L711.50 419.40 L712.50 419.43 L713.50 419.45 L714.50 419.48 L715.50 419.50 L716.50 419.52 L717.50 419.55 L718.50 419.57 L719.50 419.59 L720.50 419.61 L721.50 419.63 L722.50 419.65 L723.50 419.67 L724.50 419.69 L725.50 419.71 L726.50 419.73 L727.50 419.74 L728.50 419.76 L729.50 419.78 L730.50 419.80 L731.50 419.81 L732.50 419.83 L733.50 419.84 L734.50 419.86 L735.50 419.88 L736.50 419.89 L737.50 419.91 L738.50 419.92 L739.50 419.94 L740.50 419.95 L741.50 419.97 L742.50 419.98 L743.50 419.99 L744.50 420.01 L745.50 420.02 L746.50 420.04 L747.50 420.05 L748.50 420.06 L749.50 420.08 L750.50 420.09 L751.50 420.10 L752.50 420.12 L753.50 420.13 L754.50 420.14 L755.50 420.16 L756.50 420.17 L757.50 420.18 L758.50 420.19 L759.50 420.21 L760.50 420.22 L761.50 420.23 L762.50 420.24 L763.50 420.25 L764.50 420.27 L765.50 420.28 L766.50 420.29 L767.50 420.30 L768.50 420.31 L769.50 420.32 L770.50 420.33 L771.50 420.34 L772.50 420.35 L773.50 420.36 L774.50 420.37 L775.50 420.38 L776.50 420.39 L777.50 420.40 L778.50 420.41 L779.50 420.42 L780.50 420.43 L781.50 420.44 L782.50 420.45 L783.50 420.46 L784.50 420.47 L785.50 420.47 L786.50 420.48 L787.50 420.49 L788.50 420.50 L789.50 420.51 L790.50 420.52 L791.50 420.52 L792.50 420.53 L793.50 420.54 L794.50 420.55 L795.50 420.55 L796.50 420.56 L797.50 420.57 L798.50 420.58 L799.50 420.58 L800.50 420.59 L801.50 420.60 L802.50 420.60 L803.50 420.61 L804.50 420.61 L805.50 420.62 L805.60 420.62"/><path d="M144.50 278.09 L145.50 277.66 L146.50 277.23 L147.50 276.81 L148.50 276.38 L149.50 275.96 L150.50 275.54 L151.50 275.13 L152.50 274.71 L153.50 274.30 L154.50 273.90 L155.50 273.49 L156.50 273.09 L157.50 272.69 L158.50 272.29 L159.50 271.90 L160.50 271.50 L161.50 271.11 L162.50 270.73 L163.50 270.34 L164.50 269.96 L165.50 269.58 L166.50 269.20 L167.50 268.83 L168.50 268.46 L169.50 268.09 L170.50 267.72 L171.50 267.36 L172.50 267.00 L173.50 266.64 L174.50 266.28 L175.50 265.92 L176.50 265.57 L177.50 265.22 L178.50 264.88 L179.50 264.53 L180.50 264.19 L181.50 263.85 L182.50 263.51 L183.50 263.18 L184.50 262.84 L185.50 262.51 L186.50 262.19 L187.50 261.86 L188.50 261.54 L189.50 261.22 L190.50 260.90 L191.50 260.58 L192.50 260.27 L193.50 259.96 L194.50 259.65 L195.50 259.34 L196.50 259.03 L197.50 258.73 L198.50 258.43 L199.50 258.13 L200.50 257.84 L201.50 257.55 L202.50 257.25 L203.50 256.97 L204.50 256.68 L205.50 256.39 L206.50 256.11 L207.50 255.83 L208.50 255.55 L209.50 255.28 L210.50 255.00 L211.50 254.73 L212.50 254.46 L213.50 254.20 L214.50 253.93 L215.50 253.67 L216.50 253.41 L217.50 253.15 L218.50 252.90 L219.50 252.64 L220.50 252.39 L221.50 252.14 L222.50 251.89 L223.50 251.65 L224.50 251.40 L225.50 251.16 L226.50 250.92 L227.50 250.69 L228.50 250.45 L229.50 250.22 L230.50 249.99 L231.50 249.76 L232.50 249.53 L233.50 249.31 L234.50 249.08 L235.50 248.86 L236.50 248.64 L237.50 248.43 L238.50 248.21 L239.50 248.00 L240.50 247.79 L241.50 247.58 L242.50 247.37 L243.50 247.17 L244.50 246.97 L245.50 246.77 L246.50 246.57 L247.50 246.37 L248.50 246.18 L249.50 245.99 L250.50 245.80 L251.50 245.61 L252.50 245.42 L253.50 245.24 L254.50 245.05 L255.50 244.87 L256.50 244.70 L257.50 244.52 L258.50 244.34 L259.50 244.17 L260.50 244.00 L261.50 243.83 L262.50 243.67 L263.50 243.50 L264.50 243.34 L265.50 243.18 L266.50 243.02 L267.50 242.86 L268.50 242.71 L269.50 242.56 L270.50 242.41 L271.50 242.26 L272.50 242.11 L273.50 241.97 L274.50 241.82 L275.50 241.68 L276.50 241.54 L277.50 241.41 L278.50 241.27 L279.50 241.14 L280.50 241.01 L281.50 240.88 L282.50 240.76 L283.50 240.63 L284.50 240.51 L285.50 240.39 L286.50 240.27 L287.50 240.15 L288.50 240.04 L289.50 239.93 L290.50 239.82 L291.50 239.71 L292.50 239.60 L293.50 239.50 L294.50 239.40 L295.50 239.30 L296.50 239.20 L297.50 239.11 L298.50 239.01 L299.50 238.92 L300.50 238.83 L301.50 238.75 L302.50 238.66 L303.50 238.58 L304.50 238.50 L305.50 238.42 L306.50 238.35 L307.50 238.27 L308.50 238.20 L309.50 238.13 L310.50 238.07 L311.50 238.00 L312.50 237.94 L313.50 237.88 L314.50 237.82 L315.50 237.77 L316.50 237.71 L317.50 237.66 L318.50 237.62 L319.50 237.57 L320.50 237.53 L321.50 237.49 L322.50 237.45 L323.50 237.41 L324.50 237.38 L325.50 237.35 L326.50 237.32 L327.50 237.29 L328.50 237.27 L329.50 237.25 L330.50 237.23 L331.50 237.22 L332.50 237.20 L333.50 237.19 L334.50 237.19 L335.50 237.18 L336.50 237.18 L337.50 237.18 L338.50 237.19 L339.50 237.19 L340.50 237.20 L341.50 237.21 L342.50 237.23 L343.50 237.25 L344.50 237.27 L345.50 237.29 L346.50 237.32 L347.50 237.35 L348.50 237.38 L349.50 237.41 L350.50 237.45 L351.50 237.50 L352.50 237.54 L353.50 237.59 L354.50 237.64 L355.50 237.69 L356.50 237.75 L357.50 237.81 L358.50 237.87 L359.50 237.94 L360.50 238.01 L361.50 238.09 L362.50 238.16 L363.50 238.24 L364.50 238.33 L365.50 238.41 L366.50 238.50 L367.50 238.60 L368.50 238.69 L369.50 238.79 L370.50 238.90 L371.50 239.00 L372.50 239.11 L373.50 239.23 L374.50 239.34 L375.50 239.47 L376.50 239.59 L377.50 239.72 L378.50 239.85 L379.50 239.98 L380.50 240.12 L381.50 240.26 L382.50 240.41 L383.50 240.56 L384.50 240.71 L385.50 240.87 L386.50 241.03 L387.50 241.19 L388.50 241.36 L389.50 241.53 L390.50 241.71 L391.50 241.89 L392.50 242.07 L393.50 242.26 L394.50 242.45 L395.50 242.65 L396.50 242.85 L397.50 243.05 L398.50 243.26 L399.50 243.47 L400.50 243.69 L401.50 243.91 L402.50 244.14 L403.50 244.37 L404.50 244.61 L405.50 244.85 L406.50 245.10 L407.50 245.35 L408.50 245.61 L409.50 245.88 L410.50 246.15 L411.50 246.42 L412.50 246.70 L413.50 246.99 L414.50 247.29 L415.50 247.59 L416.50 247.90 L417.50 248.22 L418.50 248.54 L419.50 248.87 L420.50 249.21 L421.50 249.56 L422.50 249.91 L423.50 250.27 L424.50 250.64 L425.50 251.02 L426.50 251.41 L427.50 251.81 L428.50 252.21 L429.50 252.63 L430.50 253.05 L431.50 253.48 L432.50 253.92 L433.50 254.38 L434.50 254.84 L435.50 255.31 L436.50 255.79 L437.50 256.28 L438.50 256.79 L439.50 257.30 L440.50 257.82 L441.50 258.35 L442.50 258.89 L443.50 259.45 L444.50 260.01 L445.50 260.58 L446.50 261.16 L447.50 261.76 L448.50 262.36 L449.50 262.97 L450.50 263.60 L451.50 264.23 L452.50 264.88 L453.50 265.53 L454.50 266.19 L455.50 266.87 L456.50 267.55 L457.50 268.24 L458.50 268.95 L459.50 269.66 L460.50 270.38 L461.50 271.11 L462.50 271.85 L463.50 272.60 L464.50 273.36 L465.50 274.13 L466.50 274.90 L467.50 275.69 L468.50 276.48 L469.50 277.28 L470.50 278.09 L471.50 278.91 L472.50 279.74 L473.50 280.58 L474.50 281.42 L475.50 282.27 L476.50 283.13 L477.50 284.00 L478.50 284.88 L479.50 285.76 L480.50 286.65 L481.50 287.55 L482.50 288.46 L483.50 289.38 L484.50 290.30 L485.50 291.23 L486.50 292.17 L487.50 293.11 L488.50 294.07 L489.50 295.03 L490.50 295.99 L491.50 296.97 L492.50 297.95 L493.50 298.94 L494.50 299.93 L495.50 300.93 L496.50 301.94 L497.50 302.96 L498.50 303.98 L499.50 305.01 L500.50 306.04 L501.50 307.09 L502.50 308.13 L503.50 309.19 L504.50 310.24 L505.50 311.31 L506.50 312.38 L507.50 313.46 L508.50 314.54 L509.50 315.62 L510.50 316.71 L511.50 317.81 L512.50 318.91 L513.50 320.02 L514.50 321.12 L515.50 322.24 L516.50 323.35 L517.50 324.48 L518.50 325.60 L519.50 326.73 L520.50 327.86 L521.50 328.99 L522.50 330.13 L523.50 331.26 L524.50 332.40 L525.50 333.55 L526.50 334.69 L527.50 335.83 L528.50 336.98 L529.50 338.13 L530.50 339.27 L531.50 340.42 L532.50 341.57 L533.50 342.71 L534.50 343.86 L535.50 345.01 L536.50 346.15 L537.50 347.30 L538.50 348.44 L539.50 349.58 L540.50 350.72 L541.50 351.86 L542.50 353.00 L543.50 354.13 L544.50 355.26 L545.50 356.39 L546.50 357.51 L547.50 358.63 L548.50 359.75 L549.50 360.86 L550.50 361.97 L551.50 363.08 L552.50 364.18 L553.50 365.27 L554.50 366.36 L555.50 367.44 L556.50 368.52 L557.50 369.59 L558.50 370.65 L559.50 371.70 L560.50 372.74 L561.50 373.77 L562.50 374.80 L563.50 375.81 L564.50 376.81 L565.50 377.79 L566.50 378.77 L567.50 379.73 L568.50 380.68 L569.50 381.61 L570.50 382.53 L571.50 383.44 L572.50 384.33 L573.50 385.21 L574.50 386.07 L575.50 386.92 L576.50 387.75 L577.50 388.57 L578.50 389.37 L579.50 390.16 L580.50 390.93 L581.50 391.69 L582.50 392.44 L583.50 393.17 L584.50 393.88 L585.50 394.58 L586.50 395.27 L587.50 395.94 L588.50 396.60 L589.50 397.24 L590.50 397.87 L591.50 398.48 L592.50 399.08 L593.50 399.67 L594.50 400.24 L595.50 400.80 L596.50 401.35 L597.50 401.88 L598.50 402.40 L599.50 402.91 L600.50 403.40 L601.50 403.88 L602.50 404.35 L603.50 404.80 L604.50 405.25 L605.50 405.68 L606.50 406.10 L607.50 406.50 L608.50 406.90 L609.50 407.29 L610.50 407.66 L611.50 408.02 L612.50 408.37 L613.50 408.72 L614.50 409.05 L615.50 409.37 L616.50 409.68 L617.50 409.99 L618.50 410.28 L619.50 410.56 L620.50 410.84 L621.50 411.11 L622.50 411.36 L623.50 411.62 L624.50 411.86 L625.50 412.09 L626.50 412.32 L627.50 412.54 L628.50 412.75 L629.50 412.95 L630.50 413.15 L631.50 413.34 L632.50 413.52 L633.50 413.70 L634.50 413.87 L635.50 414.04 L636.50 414.20 L637.50 414.35 L638.50 414.50 L639.50 414.64 L640.50 414.77 L641.50 414.90 L642.50 415.03 L643.50 415.15 L644.50 415.27 L645.50 415.38 L646.50 415.49 L647.50 415.60 L648.50 415.70 L649.50 415.80 L650.50 415.90 L651.50 415.99 L652.50 416.08 L653.50 416.17 L654.50 416.26 L655.50 416.34 L656.50 416.43 L657.50 416.51 L658.50 416.59 L659.50 416.67 L660.50 416.75 L661.50 416.83 L662.50 416.91 L663.50 416.98 L664.50 417.06 L665.50 417.13 L666.50 417.20 L667.50 417.28 L668.50 417.35 L669.50 417.42 L670.50 417.49 L671.50 417.55 L672.50 417.62 L673.50 417.69 L674.50 417.75 L675.50 417.82 L676.50 417.88 L677.50 417.94 L678.50 418.00 L679.50 418.06 L680.50 418.12 L681.50 418.18 L682.50 418.23 L683.50 418.29 L684.50 418.34 L685.50 418.39 L686.50 418.45 L687.50 418.50 L688.50 418.55 L689.50 418.59 L690.50 418.64 L691.50 418.69 L692.50 418.73 L693.50 418.78 L694.50 418.82 L695.50 418.86 L696.50 418.90 L697.50 418.94 L698.50 418.98 L699.50 419.02 L700.50 419.06 L701.50 419.09 L702.50 419.13 L703.50 419.16 L704.50 419.19 L705.50 419.23 L706.50 419.26 L707.50 419.29 L708.50 419.32 L709.50 419.35 L710.50 419.37 L711.50 419.40 L712.50 419.43 L713.50 419.45 L714.50 419.48 L715.50 419.50 L716.50 419.52 L717.50 419.55 L718.50 419.57 L719.50 419.59 L720.50 419.61 L721.50 419.63 L722.50 419.65 L723.50 419.67 L724.50 419.69 L725.50 419.71 L726.50 419.73 L727.50 419.74 L728.50 419.76 L729.50 419.78 L730.50 419.80 L731.50 419.81 L732.50 419.83 L733.50 419.84 L734.50 419.86 L735.50 419.88 L736.50 419.89 L737.50 419.91 L738.50 419.92 L739.50 419.94 L740.50 419.95 L741.50 419.97 L742.50 419.98 L743.50 419.99 L744.50 420.01 L745.50 420.02 L746.50 420.04 L747.50 420.05 L748.50 420.06 L749.50 420.08 L750.50 420.09 L751.50 420.10 L752.50 420.12 L753.50 420.13 L754.50 420.14 L755.50 420.16 L756.50 420.17 L757.50 420.18 L758.50 420.19 L759.50 420.21 L760.50 420.22 L761.50 420.23 L762.50 420.24 L763.50 420.25 L764.50 420.27 L765.50 420.28 L766.50 420.29 L767.50 420.30 L768.50 420.31 L769.50 420.32 L770.50 420.33 L771.50 420.34 L772.50 420.35 L773.50 420.36 L774.50 420.37 L775.50 420.38 L776.50 420.39 L777.50 420.40 L778.50 420.41 L779.50 420.42 L780.50 420.43 L781.50 420.44 L782.50 420.45 L783.50 420.46 L784.50 420.47 L785.50 420.47 L786.50 420.48 L787.50 420.49 L788.50 420.50 L789.50 420.51 L790.50 420.52 L791.50 420.52 L792.50 420.53 L793.50 420.54 L794.50 420.55 L795.50 420.55 L796.50 420.56 L797.50 420.57 L798.50 420.58 L799.50 420.58 L800.50 420.59 L801.50 420.60 L802.50 420.60 L803.50 420.61 L804.50 420.61 L805.50 420.62 L805.60 420.62"/><path d="M144.50 307.05 L145.50 306.46 L146.50 305.87 L147.50 305.28 L148.50 304.70 L149.50 304.12 L150.50 303.54 L151.50 302.97 L152.50 302.40 L153.50 301.83 L154.50 301.27 L155.50 300.71 L156.50 300.15 L157.50 299.59 L158.50 299.04 L159.50 298.49 L160.50 297.94 L161.50 297.40 L162.50 296.86 L163.50 296.32 L164.50 295.79 L165.50 295.26 L166.50 294.73 L167.50 294.20 L168.50 293.68 L169.50 293.16 L170.50 292.64 L171.50 292.13 L172.50 291.62 L173.50 291.11 L174.50 290.60 L175.50 290.10 L176.50 289.60 L177.50 289.11 L178.50 288.61 L179.50 288.12 L180.50 287.64 L181.50 287.15 L182.50 286.67 L183.50 286.19 L184.50 285.72 L185.50 285.24 L186.50 284.77 L187.50 284.30 L188.50 283.84 L189.50 283.38 L190.50 282.92 L191.50 282.46 L192.50 282.01 L193.50 281.56 L194.50 281.11 L195.50 280.67 L196.50 280.23 L197.50 279.79 L198.50 279.35 L199.50 278.92 L200.50 278.49 L201.50 278.06 L202.50 277.64 L203.50 277.22 L204.50 276.80 L205.50 276.38 L206.50 275.97 L207.50 275.56 L208.50 275.15 L209.50 274.75 L210.50 274.34 L211.50 273.94 L212.50 273.55 L213.50 273.15 L214.50 272.76 L215.50 272.37 L216.50 271.99 L217.50 271.60 L218.50 271.22 L219.50 270.85 L220.50 270.47 L221.50 270.10 L222.50 269.73 L223.50 269.36 L224.50 269.00 L225.50 268.64 L226.50 268.28 L227.50 267.92 L228.50 267.57 L229.50 267.22 L230.50 266.87 L231.50 266.52 L232.50 266.18 L233.50 265.84 L234.50 265.50 L235.50 265.17 L236.50 264.84 L237.50 264.51 L238.50 264.18 L239.50 263.85 L240.50 263.53 L241.50 263.21 L242.50 262.90 L243.50 262.58 L244.50 262.27 L245.50 261.96 L246.50 261.66 L247.50 261.35 L248.50 261.05 L249.50 260.75 L250.50 260.46 L251.50 260.16 L252.50 259.87 L253.50 259.58 L254.50 259.30 L255.50 259.01 L256.50 258.73 L257.50 258.45 L258.50 258.18 L259.50 257.91 L260.50 257.64 L261.50 257.37 L262.50 257.10 L263.50 256.84 L264.50 256.58 L265.50 256.32 L266.50 256.07 L267.50 255.81 L268.50 255.56 L269.50 255.31 L270.50 255.07 L271.50 254.83 L272.50 254.59 L273.50 254.35 L274.50 254.11 L275.50 253.88 L276.50 253.65 L277.50 253.42 L278.50 253.20 L279.50 252.98 L280.50 252.76 L281.50 252.54 L282.50 252.33 L283.50 252.11 L284.50 251.90 L285.50 251.70 L286.50 251.49 L287.50 251.29 L288.50 251.09 L289.50 250.89 L290.50 250.70 L291.50 250.51 L292.50 250.32 L293.50 250.13 L294.50 249.95 L295.50 249.77 L296.50 249.59 L297.50 249.41 L298.50 249.24 L299.50 249.07 L300.50 248.90 L301.50 248.74 L302.50 248.57 L303.50 248.41 L304.50 248.26 L305.50 248.10 L306.50 247.95 L307.50 247.80 L308.50 247.65 L309.50 247.51 L310.50 247.37 L311.50 247.23 L312.50 247.09 L313.50 246.96 L314.50 246.83 L315.50 246.70 L316.50 246.58 L317.50 246.46 L318.50 246.34 L319.50 246.22 L320.50 246.11 L321.50 246.00 L322.50 245.89 L323.50 245.78 L324.50 245.68 L325.50 245.58 L326.50 245.49 L327.50 245.40 L328.50 245.31 L329.50 245.22 L330.50 245.13 L331.50 245.05 L332.50 244.98 L333.50 244.90 L334.50 244.83 L335.50 244.76 L336.50 244.70 L337.50 244.63 L338.50 244.57 L339.50 244.52 L340.50 244.47 L341.50 244.42 L342.50 244.37 L343.50 244.33 L344.50 244.29 L345.50 244.25 L346.50 244.22 L347.50 244.19 L348.50 244.16 L349.50 244.14 L350.50 244.12 L351.50 244.10 L352.50 244.09 L353.50 244.08 L354.50 244.07 L355.50 244.07 L356.50 244.07 L357.50 244.08 L358.50 244.09 L359.50 244.10 L360.50 244.11 L361.50 244.13 L362.50 244.16 L363.50 244.18 L364.50 244.21 L365.50 244.25 L366.50 244.28 L367.50 244.32 L368.50 244.37 L369.50 244.42 L370.50 244.47 L371.50 244.52 L372.50 244.58 L373.50 244.65 L374.50 244.71 L375.50 244.79 L376.50 244.86 L377.50 244.94 L378.50 245.02 L379.50 245.11 L380.50 245.20 L381.50 245.29 L382.50 245.39 L383.50 245.49 L384.50 245.60 L385.50 245.71 L386.50 245.82 L387.50 245.94 L388.50 246.06 L389.50 246.18 L390.50 246.31 L391.50 246.45 L392.50 246.59 L393.50 246.73 L394.50 246.88 L395.50 247.03 L396.50 247.18 L397.50 247.34 L398.50 247.51 L399.50 247.68 L400.50 247.85 L401.50 248.03 L402.50 248.22 L403.50 248.41 L404.50 248.60 L405.50 248.80 L406.50 249.01 L407.50 249.22 L408.50 249.44 L409.50 249.66 L410.50 249.89 L411.50 250.13 L412.50 250.37 L413.50 250.62 L414.50 250.88 L415.50 251.14 L416.50 251.41 L417.50 251.69 L418.50 251.97 L419.50 252.27 L420.50 252.57 L421.50 252.87 L422.50 253.19 L423.50 253.52 L424.50 253.85 L425.50 254.19 L426.50 254.54 L427.50 254.90 L428.50 255.27 L429.50 255.65 L430.50 256.04 L431.50 256.43 L432.50 256.84 L433.50 257.26 L434.50 257.69 L435.50 258.12 L436.50 258.57 L437.50 259.03 L438.50 259.49 L439.50 259.97 L440.50 260.46 L441.50 260.96 L442.50 261.47 L443.50 261.99 L444.50 262.52 L445.50 263.06 L446.50 263.61 L447.50 264.17 L448.50 264.74 L449.50 265.32 L450.50 265.92 L451.50 266.52 L452.50 267.13 L453.50 267.75 L454.50 268.39 L455.50 269.03 L456.50 269.68 L457.50 270.35 L458.50 271.02 L459.50 271.70 L460.50 272.39 L461.50 273.09 L462.50 273.80 L463.50 274.52 L464.50 275.25 L465.50 275.99 L466.50 276.74 L467.50 277.50 L468.50 278.26 L469.50 279.04 L470.50 279.82 L471.50 280.61 L472.50 281.41 L473.50 282.22 L474.50 283.04 L475.50 283.87 L476.50 284.70 L477.50 285.54 L478.50 286.39 L479.50 287.25 L480.50 288.12 L481.50 288.99 L482.50 289.88 L483.50 290.77 L484.50 291.67 L485.50 292.57 L486.50 293.49 L487.50 294.41 L488.50 295.34 L489.50 296.27 L490.50 297.22 L491.50 298.17 L492.50 299.13 L493.50 300.09 L494.50 301.07 L495.50 302.05 L496.50 303.03 L497.50 304.03 L498.50 305.03 L499.50 306.03 L500.50 307.05 L501.50 308.07 L502.50 309.09 L503.50 310.13 L504.50 311.17 L505.50 312.21 L506.50 313.26 L507.50 314.32 L508.50 315.38 L509.50 316.45 L510.50 317.52 L511.50 318.60 L512.50 319.68 L513.50 320.77 L514.50 321.86 L515.50 322.95 L516.50 324.05 L517.50 325.16 L518.50 326.26 L519.50 327.38 L520.50 328.49 L521.50 329.61 L522.50 330.73 L523.50 331.85 L524.50 332.97 L525.50 334.10 L526.50 335.23 L527.50 336.36 L528.50 337.49 L529.50 338.62 L530.50 339.75 L531.50 340.89 L532.50 342.02 L533.50 343.16 L534.50 344.29 L535.50 345.42 L536.50 346.56 L537.50 347.69 L538.50 348.82 L539.50 349.95 L540.50 351.08 L541.50 352.20 L542.50 353.33 L543.50 354.45 L544.50 355.57 L545.50 356.69 L546.50 357.80 L547.50 358.91 L548.50 360.02 L549.50 361.12 L550.50 362.22 L551.50 363.32 L552.50 364.41 L553.50 365.50 L554.50 366.58 L555.50 367.65 L556.50 368.72 L557.50 369.78 L558.50 370.83 L559.50 371.88 L560.50 372.91 L561.50 373.94 L562.50 374.95 L563.50 375.96 L564.50 376.95 L565.50 377.93 L566.50 378.90 L567.50 379.85 L568.50 380.80 L569.50 381.72 L570.50 382.64 L571.50 383.54 L572.50 384.43 L573.50 385.30 L574.50 386.16 L575.50 387.00 L576.50 387.83 L577.50 388.64 L578.50 389.44 L579.50 390.23 L580.50 391.00 L581.50 391.75 L582.50 392.50 L583.50 393.22 L584.50 393.93 L585.50 394.63 L586.50 395.31 L587.50 395.98 L588.50 396.64 L589.50 397.28 L590.50 397.91 L591.50 398.52 L592.50 399.12 L593.50 399.70 L594.50 400.27 L595.50 400.83 L596.50 401.37 L597.50 401.90 L598.50 402.42 L599.50 402.93 L600.50 403.42 L601.50 403.90 L602.50 404.36 L603.50 404.82 L604.50 405.26 L605.50 405.69 L606.50 406.11 L607.50 406.51 L608.50 406.91 L609.50 407.29 L610.50 407.67 L611.50 408.03 L612.50 408.38 L613.50 408.72 L614.50 409.05 L615.50 409.38 L616.50 409.69 L617.50 409.99 L618.50 410.28 L619.50 410.57 L620.50 410.84 L621.50 411.11 L622.50 411.37 L623.50 411.62 L624.50 411.86 L625.50 412.09 L626.50 412.32 L627.50 412.54 L628.50 412.75 L629.50 412.95 L630.50 413.15 L631.50 413.34 L632.50 413.53 L633.50 413.70 L634.50 413.87 L635.50 414.04 L636.50 414.20 L637.50 414.35 L638.50 414.50 L639.50 414.64 L640.50 414.77 L641.50 414.90 L642.50 415.03 L643.50 415.15 L644.50 415.27 L645.50 415.38 L646.50 415.49 L647.50 415.60 L648.50 415.70 L649.50 415.80 L650.50 415.90 L651.50 415.99 L652.50 416.08 L653.50 416.17 L654.50 416.26 L655.50 416.34 L656.50 416.43 L657.50 416.51 L658.50 416.59 L659.50 416.67 L660.50 416.75 L661.50 416.83 L662.50 416.91 L663.50 416.98 L664.50 417.06 L665.50 417.13 L666.50 417.20 L667.50 417.28 L668.50 417.35 L669.50 417.42 L670.50 417.49 L671.50 417.55 L672.50 417.62 L673.50 417.69 L674.50 417.75 L675.50 417.82 L676.50 417.88 L677.50 417.94 L678.50 418.00 L679.50 418.06 L680.50 418.12 L681.50 418.18 L682.50 418.23 L683.50 418.29 L684.50 418.34 L685.50 418.39 L686.50 418.45 L687.50 418.50 L688.50 418.55 L689.50 418.59 L690.50 418.64 L691.50 418.69 L692.50 418.73 L693.50 418.78 L694.50 418.82 L695.50 418.86 L696.50 418.90 L697.50 418.94 L698.50 418.98 L699.50 419.02 L700.50 419.06 L701.50 419.09 L702.50 419.13 L703.50 419.16 L704.50 419.19 L705.50 419.23 L706.50 419.26 L707.50 419.29 L708.50 419.32 L709.50 419.35 L710.50 419.37 L711.50 419.40 L712.50 419.43 L713.50 419.45 L714.50 419.48 L715.50 419.50 L716.50 419.52 L717.50 419.55 L718.50 419.57 L719.50 419.59 L720.50 419.61 L721.50 419.63 L722.50 419.65 L723.50 419.67 L724.50 419.69 L725.50 419.71 L726.50 419.73 L727.50 419.74 L728.50 419.76 L729.50 419.78 L730.50 419.80 L731.50 419.81 L732.50 419.83 L733.50 419.84 L734.50 419.86 L735.50 419.88 L736.50 419.89 L737.50 419.91 L738.50 419.92 L739.50 419.94 L740.50 419.95 L741.50 419.97 L742.50 419.98 L743.50 419.99 L744.50 420.01 L745.50 420.02 L746.50 420.04 L747.50 420.05 L748.50 420.06 L749.50 420.08 L750.50 420.09 L751.50 420.10 L752.50 420.12 L753.50 420.13 L754.50 420.14 L755.50 420.16 L756.50 420.17 L757.50 420.18 L758.50 420.19 L759.50 420.21 L760.50 420.22 L761.50 420.23 L762.50 420.24 L763.50 420.25 L764.50 420.27 L765.50 420.28 L766.50 420.29 L767.50 420.30 L768.50 420.31 L769.50 420.32 L770.50 420.33 L771.50 420.34 L772.50 420.35 L773.50 420.36 L774.50 420.37 L775.50 420.38 L776.50 420.39 L777.50 420.40 L778.50 420.41 L779.50 420.42 L780.50 420.43 L781.50 420.44 L782.50 420.45 L783.50 420.46 L784.50 420.47 L785.50 420.47 L786.50 420.48 L787.50 420.49 L788.50 420.50 L789.50 420.51 L790.50 420.52 L791.50 420.52 L792.50 420.53 L793.50 420.54 L794.50 420.55 L795.50 420.55 L796.50 420.56 L797.50 420.57 L798.50 420.58 L799.50 420.58 L800.50 420.59 L801.50 420.60 L802.50 420.60 L803.50 420.61 L804.50 420.61 L805.50 420.62 L805.60 420.62"/>
</g>
<path d="M144.50 217.34 L145.50 217.34 L146.50 217.35 L147.50 217.35 L148.50 217.36 L149.50 217.36 L150.50 217.37 L151.50 217.37 L152.50 217.37 L153.50 217.38 L154.50 217.38 L155.50 217.39 L156.50 217.39 L157.50 217.40 L158.50 217.41 L159.50 217.41 L160.50 217.42 L161.50 217.42 L162.50 217.43 L163.50 217.43 L164.50 217.44 L165.50 217.45 L166.50 217.45 L167.50 217.46 L168.50 217.46 L169.50 217.47 L170.50 217.48 L171.50 217.48 L172.50 217.49 L173.50 217.50 L174.50 217.51 L175.50 217.51 L176.50 217.52 L177.50 217.53 L178.50 217.54 L179.50 217.54 L180.50 217.55 L181.50 217.56 L182.50 217.57 L183.50 217.58 L184.50 217.58 L185.50 217.59 L186.50 217.60 L187.50 217.61 L188.50 217.62 L189.50 217.63 L190.50 217.64 L191.50 217.65 L192.50 217.66 L193.50 217.67 L194.50 217.68 L195.50 217.69 L196.50 217.70 L197.50 217.71 L198.50 217.72 L199.50 217.73 L200.50 217.74 L201.50 217.75 L202.50 217.76 L203.50 217.78 L204.50 217.79 L205.50 217.80 L206.50 217.81 L207.50 217.83 L208.50 217.84 L209.50 217.85 L210.50 217.86 L211.50 217.88 L212.50 217.89 L213.50 217.91 L214.50 217.92 L215.50 217.93 L216.50 217.95 L217.50 217.96 L218.50 217.98 L219.50 218.00 L220.50 218.01 L221.50 218.03 L222.50 218.04 L223.50 218.06 L224.50 218.08 L225.50 218.09 L226.50 218.11 L227.50 218.13 L228.50 218.15 L229.50 218.17 L230.50 218.19 L231.50 218.20 L232.50 218.22 L233.50 218.24 L234.50 218.26 L235.50 218.29 L236.50 218.31 L237.50 218.33 L238.50 218.35 L239.50 218.37 L240.50 218.39 L241.50 218.42 L242.50 218.44 L243.50 218.46 L244.50 218.49 L245.50 218.51 L246.50 218.54 L247.50 218.56 L248.50 218.59 L249.50 218.61 L250.50 218.64 L251.50 218.67 L252.50 218.69 L253.50 218.72 L254.50 218.75 L255.50 218.78 L256.50 218.81 L257.50 218.84 L258.50 218.87 L259.50 218.90 L260.50 218.93 L261.50 218.97 L262.50 219.00 L263.50 219.03 L264.50 219.07 L265.50 219.10 L266.50 219.13 L267.50 219.17 L268.50 219.21 L269.50 219.24 L270.50 219.28 L271.50 219.32 L272.50 219.36 L273.50 219.40 L274.50 219.44 L275.50 219.48 L276.50 219.52 L277.50 219.56 L278.50 219.61 L279.50 219.65 L280.50 219.70 L281.50 219.74 L282.50 219.79 L283.50 219.83 L284.50 219.88 L285.50 219.93 L286.50 219.98 L287.50 220.03 L288.50 220.08 L289.50 220.13 L290.50 220.19 L291.50 220.24 L292.50 220.30 L293.50 220.35 L294.50 220.41 L295.50 220.47 L296.50 220.53 L297.50 220.58 L298.50 220.65 L299.50 220.71 L300.50 220.77 L301.50 220.83 L302.50 220.90 L303.50 220.97 L304.50 221.03 L305.50 221.10 L306.50 221.17 L307.50 221.24 L308.50 221.31 L309.50 221.39 L310.50 221.46 L311.50 221.54 L312.50 221.62 L313.50 221.69 L314.50 221.77 L315.50 221.86 L316.50 221.94 L317.50 222.02 L318.50 222.11 L319.50 222.19 L320.50 222.28 L321.50 222.37 L322.50 222.46 L323.50 222.56 L324.50 222.65 L325.50 222.75 L326.50 222.85 L327.50 222.94 L328.50 223.05 L329.50 223.15 L330.50 223.25 L331.50 223.36 L332.50 223.47 L333.50 223.58 L334.50 223.69 L335.50 223.80 L336.50 223.92 L337.50 224.04 L338.50 224.16 L339.50 224.28 L340.50 224.40 L341.50 224.53 L342.50 224.65 L343.50 224.78 L344.50 224.91 L345.50 225.05 L346.50 225.18 L347.50 225.32 L348.50 225.46 L349.50 225.61 L350.50 225.75 L351.50 225.90 L352.50 226.05 L353.50 226.20 L354.50 226.36 L355.50 226.51 L356.50 226.67 L357.50 226.83 L358.50 227.00 L359.50 227.17 L360.50 227.34 L361.50 227.51 L362.50 227.68 L363.50 227.86 L364.50 228.04 L365.50 228.22 L366.50 228.41 L367.50 228.60 L368.50 228.79 L369.50 228.98 L370.50 229.18 L371.50 229.38 L372.50 229.58 L373.50 229.78 L374.50 229.99 L375.50 230.20 L376.50 230.41 L377.50 230.63 L378.50 230.85 L379.50 231.07 L380.50 231.30 L381.50 231.53 L382.50 231.76 L383.50 231.99 L384.50 232.23 L385.50 232.47 L386.50 232.71 L387.50 232.96 L388.50 233.21 L389.50 233.46 L390.50 233.72 L391.50 233.98 L392.50 234.24 L393.50 234.51 L394.50 234.78 L395.50 235.06 L396.50 235.33 L397.50 235.62 L398.50 235.90 L399.50 236.19 L400.50 236.49 L401.50 236.78 L402.50 237.09 L403.50 237.39 L404.50 237.70 L405.50 238.02 L406.50 238.34 L407.50 238.67 L408.50 239.00 L409.50 239.33 L410.50 239.67 L411.50 240.02 L412.50 240.37 L413.50 240.73 L414.50 241.10 L415.50 241.47 L416.50 241.85 L417.50 242.23 L418.50 242.62 L419.50 243.02 L420.50 243.43 L421.50 243.84 L422.50 244.26 L423.50 244.69 L424.50 245.12 L425.50 245.57 L426.50 246.02 L427.50 246.48 L428.50 246.95 L429.50 247.42 L430.50 247.91 L431.50 248.41 L432.50 248.91 L433.50 249.42 L434.50 249.95 L435.50 250.48 L436.50 251.02 L437.50 251.57 L438.50 252.13 L439.50 252.70 L440.50 253.28 L441.50 253.87 L442.50 254.47 L443.50 255.08 L444.50 255.70 L445.50 256.33 L446.50 256.97 L447.50 257.62 L448.50 258.28 L449.50 258.95 L450.50 259.63 L451.50 260.32 L452.50 261.02 L453.50 261.72 L454.50 262.44 L455.50 263.17 L456.50 263.90 L457.50 264.65 L458.50 265.40 L459.50 266.16 L460.50 266.94 L461.50 267.72 L462.50 268.51 L463.50 269.31 L464.50 270.12 L465.50 270.93 L466.50 271.76 L467.50 272.59 L468.50 273.43 L469.50 274.28 L470.50 275.14 L471.50 276.01 L472.50 276.88 L473.50 277.76 L474.50 278.65 L475.50 279.55 L476.50 280.46 L477.50 281.37 L478.50 282.29 L479.50 283.22 L480.50 284.15 L481.50 285.10 L482.50 286.05 L483.50 287.01 L484.50 287.97 L485.50 288.94 L486.50 289.92 L487.50 290.91 L488.50 291.90 L489.50 292.90 L490.50 293.91 L491.50 294.92 L492.50 295.94 L493.50 296.97 L494.50 298.00 L495.50 299.04 L496.50 300.09 L497.50 301.14 L498.50 302.20 L499.50 303.26 L500.50 304.33 L501.50 305.41 L502.50 306.49 L503.50 307.58 L504.50 308.67 L505.50 309.77 L506.50 310.88 L507.50 311.99 L508.50 313.10 L509.50 314.22 L510.50 315.34 L511.50 316.47 L512.50 317.60 L513.50 318.74 L514.50 319.88 L515.50 321.02 L516.50 322.17 L517.50 323.32 L518.50 324.47 L519.50 325.62 L520.50 326.78 L521.50 327.94 L522.50 329.11 L523.50 330.27 L524.50 331.44 L525.50 332.60 L526.50 333.77 L527.50 334.94 L528.50 336.11 L529.50 337.28 L530.50 338.45 L531.50 339.62 L532.50 340.80 L533.50 341.97 L534.50 343.13 L535.50 344.30 L536.50 345.47 L537.50 346.63 L538.50 347.80 L539.50 348.96 L540.50 350.12 L541.50 351.28 L542.50 352.43 L543.50 353.58 L544.50 354.73 L545.50 355.88 L546.50 357.02 L547.50 358.16 L548.50 359.29 L549.50 360.42 L550.50 361.55 L551.50 362.67 L552.50 363.78 L553.50 364.89 L554.50 365.99 L555.50 367.09 L556.50 368.18 L557.50 369.26 L558.50 370.33 L559.50 371.40 L560.50 372.45 L561.50 373.50 L562.50 374.53 L563.50 375.55 L564.50 376.56 L565.50 377.56 L566.50 378.55 L567.50 379.52 L568.50 380.47 L569.50 381.42 L570.50 382.35 L571.50 383.26 L572.50 384.16 L573.50 385.05 L574.50 385.92 L575.50 386.77 L576.50 387.61 L577.50 388.44 L578.50 389.25 L579.50 390.04 L580.50 390.82 L581.50 391.59 L582.50 392.34 L583.50 393.07 L584.50 393.79 L585.50 394.50 L586.50 395.19 L587.50 395.87 L588.50 396.53 L589.50 397.18 L590.50 397.81 L591.50 398.43 L592.50 399.03 L593.50 399.62 L594.50 400.20 L595.50 400.76 L596.50 401.31 L597.50 401.84 L598.50 402.37 L599.50 402.87 L600.50 403.37 L601.50 403.85 L602.50 404.32 L603.50 404.78 L604.50 405.22 L605.50 405.66 L606.50 406.08 L607.50 406.49 L608.50 406.88 L609.50 407.27 L610.50 407.65 L611.50 408.01 L612.50 408.36 L613.50 408.71 L614.50 409.04 L615.50 409.36 L616.50 409.68 L617.50 409.98 L618.50 410.27 L619.50 410.56 L620.50 410.83 L621.50 411.10 L622.50 411.36 L623.50 411.61 L624.50 411.85 L625.50 412.09 L626.50 412.32 L627.50 412.53 L628.50 412.75 L629.50 412.95 L630.50 413.15 L631.50 413.34 L632.50 413.52 L633.50 413.70 L634.50 413.87 L635.50 414.04 L636.50 414.20 L637.50 414.35 L638.50 414.49 L639.50 414.64 L640.50 414.77 L641.50 414.90 L642.50 415.03 L643.50 415.15 L644.50 415.27 L645.50 415.38 L646.50 415.49 L647.50 415.60 L648.50 415.70 L649.50 415.80 L650.50 415.90 L651.50 415.99 L652.50 416.08 L653.50 416.17 L654.50 416.26 L655.50 416.34 L656.50 416.43 L657.50 416.51 L658.50 416.59 L659.50 416.67 L660.50 416.75 L661.50 416.83 L662.50 416.91 L663.50 416.98 L664.50 417.06 L665.50 417.13 L666.50 417.20 L667.50 417.28 L668.50 417.35 L669.50 417.42 L670.50 417.49 L671.50 417.55 L672.50 417.62 L673.50 417.69 L674.50 417.75 L675.50 417.82 L676.50 417.88 L677.50 417.94 L678.50 418.00 L679.50 418.06 L680.50 418.12 L681.50 418.18 L682.50 418.23 L683.50 418.29 L684.50 418.34 L685.50 418.39 L686.50 418.45 L687.50 418.50 L688.50 418.55 L689.50 418.59 L690.50 418.64 L691.50 418.69 L692.50 418.73 L693.50 418.78 L694.50 418.82 L695.50 418.86 L696.50 418.90 L697.50 418.94 L698.50 418.98 L699.50 419.02 L700.50 419.06 L701.50 419.09 L702.50 419.13 L703.50 419.16 L704.50 419.19 L705.50 419.23 L706.50 419.26 L707.50 419.29 L708.50 419.32 L709.50 419.35 L710.50 419.37 L711.50 419.40 L712.50 419.43 L713.50 419.45 L714.50 419.48 L715.50 419.50 L716.50 419.52 L717.50 419.55 L718.50 419.57 L719.50 419.59 L720.50 419.61 L721.50 419.63 L722.50 419.65 L723.50 419.67 L724.50 419.69 L725.50 419.71 L726.50 419.73 L727.50 419.74 L728.50 419.76 L729.50 419.78 L730.50 419.80 L731.50 419.81 L732.50 419.83 L733.50 419.84 L734.50 419.86 L735.50 419.88 L736.50 419.89 L737.50 419.91 L738.50 419.92 L739.50 419.94 L740.50 419.95 L741.50 419.97 L742.50 419.98 L743.50 419.99 L744.50 420.01 L745.50 420.02 L746.50 420.04 L747.50 420.05 L748.50 420.06 L749.50 420.08 L750.50 420.09 L751.50 420.10 L752.50 420.12 L753.50 420.13 L754.50 420.14 L755.50 420.16 L756.50 420.17 L757.50 420.18 L758.50 420.19 L759.50 420.21 L760.50 420.22 L761.50 420.23 L762.50 420.24 L763.50 420.25 L764.50 420.27 L765.50 420.28 L766.50 420.29 L767.50 420.30 L768.50 420.31 L769.50 420.32 L770.50 420.33 L771.50 420.34 L772.50 420.35 L773.50 420.36 L774.50 420.37 L775.50 420.38 L776.50 420.39 L777.50 420.40 L778.50 420.41 L779.50 420.42 L780.50 420.43 L781.50 420.44 L782.50 420.45 L783.50 420.46 L784.50 420.47 L785.50 420.47 L786.50 420.48 L787.50 420.49 L788.50 420.50 L789.50 420.51 L790.50 420.52 L791.50 420.52 L792.50 420.53 L793.50 420.54 L794.50 420.55 L795.50 420.55 L796.50 420.56 L797.50 420.57 L798.50 420.58 L799.50 420.58 L800.50 420.59 L801.50 420.60 L802.50 420.60 L803.50 420.61 L804.50 420.61 L805.50 420.62 L805.60 420.62" stroke="#000" stroke-width="2.15"/>
<path d="M491.68 15.50 L492.00 17.74 L492.50 21.25 L493.00 24.72 L493.50 28.17 L494.00 31.58 L494.50 34.97 L495.00 38.32 L495.50 41.65 L496.00 44.95 L496.50 48.22 L497.00 51.46 L497.50 54.67 L498.00 57.86 L498.50 61.01 L499.00 64.14 L499.50 67.24 L500.00 70.32 L500.50 73.37 L501.00 76.39 L501.50 79.39 L502.00 82.36 L502.50 85.30 L503.00 88.22 L503.50 91.11 L504.00 93.98 L504.50 96.82 L505.00 99.64 L505.50 102.43 L506.00 105.20 L506.50 107.95 L507.00 110.67 L507.50 113.37 L508.00 116.04 L508.50 118.69 L509.00 121.32 L509.50 123.93 L510.00 126.51 L510.50 129.07 L511.00 131.61 L511.50 134.12 L512.00 136.62 L512.50 139.09 L513.00 141.54 L513.50 143.97 L514.00 146.38 L514.50 148.76 L515.00 151.13 L515.50 153.48 L516.00 155.80 L516.50 158.11 L517.00 160.39 L517.50 162.66 L518.00 164.90 L518.50 167.13 L519.00 169.34 L519.50 171.52 L520.00 173.69 L520.50 175.84 L521.00 177.97 L521.50 180.09 L522.00 182.18 L522.50 184.26 L523.00 186.31 L523.50 188.35 L524.00 190.38 L524.50 192.38 L525.00 194.37 L525.50 196.34 L526.00 198.29 L526.50 200.23 L527.00 202.15 L527.50 204.05 L528.00 205.94 L528.50 207.81 L529.00 209.66 L529.50 211.50 L530.00 213.32 L530.50 215.12 L531.00 216.91 L531.50 218.69 L532.00 220.44 L532.50 222.19 L533.00 223.92 L533.50 225.63 L534.00 227.33 L534.50 229.01 L535.00 230.68 L535.50 232.33 L536.00 233.97 L536.50 235.60 L537.00 237.21 L537.50 238.81 L538.00 240.39 L538.50 241.96 L539.00 243.52 L539.50 245.06 L540.00 246.59 L540.50 248.11 L541.00 249.61 L541.50 251.10 L542.00 252.58 L542.50 254.04 L543.00 255.49 L543.50 256.93 L544.00 258.36 L544.50 259.77 L545.00 261.17 L545.50 262.56 L546.00 263.94 L546.50 265.30 L547.00 266.66 L547.50 268.00 L548.00 269.33 L548.50 270.65 L549.00 271.95 L549.50 273.25 L550.00 274.53 L550.50 275.81 L551.00 277.07 L551.50 278.32 L552.00 279.56 L552.50 280.79 L553.00 282.01 L553.50 283.22 L554.00 284.42 L554.50 285.60 L555.00 286.78 L555.50 287.95 L556.00 289.10 L556.50 290.25 L557.00 291.39 L557.50 292.51 L558.00 293.63 L558.50 294.74 L559.00 295.83 L559.50 296.92 L560.00 298.00 L560.50 299.07 L561.00 300.13 L561.50 301.18 L562.00 302.22 L562.50 303.25 L563.00 304.28 L563.50 305.29 L564.00 306.30 L564.50 307.29 L565.00 308.28 L565.50 309.26 L566.00 310.23 L566.50 311.20 L567.00 312.15 L567.50 313.10 L568.00 314.03 L568.50 314.96 L569.00 315.89 L569.50 316.80 L570.00 317.71 L570.50 318.60 L571.00 319.49 L571.50 320.38 L572.00 321.25 L572.50 322.12 L573.00 322.98 L573.50 323.83 L574.00 324.67 L574.50 325.51 L575.00 326.34 L575.50 327.16 L576.00 327.98 L576.50 328.79 L577.00 329.59 L577.50 330.38 L578.00 331.17 L578.50 331.95 L579.00 332.73 L579.50 333.49 L580.00 334.25 L580.50 335.01 L581.00 335.75 L581.50 336.50 L582.00 337.23 L582.50 337.96 L583.00 338.68 L583.50 339.40 L584.00 340.10 L584.50 340.81 L585.00 341.50 L585.50 342.20 L586.00 342.88 L586.50 343.56 L587.00 344.23 L587.50 344.90 L588.00 345.56 L588.50 346.22 L589.00 346.87 L589.50 347.51 L590.00 348.15 L590.50 348.78 L591.00 349.41 L591.50 350.03 L592.00 350.65 L592.50 351.26 L593.00 351.87 L593.50 352.47 L594.00 353.06 L594.50 353.65 L595.00 354.24 L595.50 354.82 L596.00 355.39 L596.50 355.96 L597.00 356.53 L597.50 357.09 L598.00 357.65 L598.50 358.20 L599.00 358.74 L599.50 359.28 L600.00 359.82 L600.50 360.35 L601.00 360.88 L601.50 361.40 L602.00 361.92 L602.50 362.43 L603.00 362.94 L603.50 363.45 L604.00 363.95 L604.50 364.44 L605.00 364.93 L605.50 365.42 L606.00 365.90 L606.50 366.38 L607.00 366.86 L607.50 367.33 L608.00 367.79 L608.50 368.26 L609.00 368.71 L609.50 369.17 L610.00 369.62 L610.50 370.07 L611.00 370.51 L611.50 370.95 L612.00 371.38 L612.50 371.81 L613.00 372.24 L613.50 372.66 L614.00 373.08 L614.50 373.50 L615.00 373.91 L615.50 374.32 L616.00 374.73 L616.50 375.13 L617.00 375.53 L617.50 375.92 L618.00 376.32 L618.50 376.70 L619.00 377.09 L619.50 377.47 L620.00 377.85 L620.50 378.22 L621.00 378.60 L621.50 378.96 L622.00 379.33 L622.50 379.69 L623.00 380.05 L623.50 380.41 L624.00 380.76 L624.50 381.11 L625.00 381.45 L625.50 381.80 L626.00 382.14 L626.50 382.48 L627.00 382.81 L627.50 383.14 L628.00 383.47 L628.50 383.80 L629.00 384.12 L629.50 384.44 L630.00 384.76 L630.50 385.07 L631.00 385.39 L631.50 385.70 L632.00 386.00 L632.50 386.31 L633.00 386.61 L633.50 386.91 L634.00 387.20 L634.50 387.50 L635.00 387.79 L635.50 388.08 L636.00 388.36 L636.50 388.65 L637.00 388.93 L637.50 389.21 L638.00 389.48 L638.50 389.76 L639.00 390.03 L639.50 390.30 L640.00 390.56 L640.50 390.83 L641.00 391.09 L641.50 391.35 L642.00 391.61 L642.50 391.86 L643.00 392.11 L643.50 392.37 L644.00 392.61 L644.50 392.86 L645.00 393.11 L645.50 393.35 L646.00 393.59 L646.50 393.83 L647.00 394.06 L647.50 394.30 L648.00 394.53 L648.50 394.76 L649.00 394.99 L649.50 395.21 L650.00 395.44 L650.50 395.66 L651.00 395.88 L651.50 396.10 L652.00 396.31 L652.50 396.53 L653.00 396.74 L653.50 396.95 L654.00 397.16 L654.50 397.37 L655.00 397.57 L655.50 397.77 L656.00 397.98 L656.50 398.18 L657.00 398.37 L657.50 398.57 L658.00 398.77 L658.50 398.96 L659.00 399.15 L659.50 399.34 L660.00 399.53 L660.50 399.71 L661.00 399.90 L661.50 400.08 L662.00 400.26 L662.50 400.44 L663.00 400.62 L663.50 400.80 L664.00 400.98 L664.50 401.15 L665.00 401.32 L665.50 401.49 L666.00 401.66 L666.50 401.83 L667.00 402.00 L667.50 402.16 L668.00 402.32 L668.50 402.49 L669.00 402.65 L669.50 402.81 L670.00 402.97 L670.50 403.12 L671.00 403.28 L671.50 403.43 L672.00 403.58 L672.50 403.73 L673.00 403.88 L673.50 404.03 L674.00 404.18 L674.50 404.33 L675.00 404.47 L675.50 404.61 L676.00 404.76 L676.50 404.90 L677.00 405.04 L677.50 405.18 L678.00 405.31 L678.50 405.45 L679.00 405.58 L679.50 405.72 L680.00 405.85 L680.50 405.98 L681.00 406.11 L681.50 406.24 L682.00 406.37 L682.50 406.50 L683.00 406.62 L683.50 406.75 L684.00 406.87 L684.50 406.99 L685.00 407.12 L685.50 407.24 L686.00 407.36 L686.50 407.47 L687.00 407.59 L687.50 407.71 L688.00 407.82 L688.50 407.94 L689.00 408.05 L689.50 408.16 L690.00 408.27 L690.50 408.39 L691.00 408.49 L691.50 408.60 L692.00 408.71 L692.50 408.82 L693.00 408.92 L693.50 409.03 L694.00 409.13 L694.50 409.23 L695.00 409.34 L695.50 409.44 L696.00 409.54 L696.50 409.64 L697.00 409.74 L697.50 409.83 L698.00 409.93 L698.50 410.03 L699.00 410.12 L699.50 410.22 L700.00 410.31 L700.50 410.40 L701.00 410.49 L701.50 410.59 L702.00 410.68 L702.50 410.77 L703.00 410.85 L703.50 410.94 L704.00 411.03 L704.50 411.12 L705.00 411.20 L705.50 411.29 L706.00 411.37 L706.50 411.45 L707.00 411.54 L707.50 411.62 L708.00 411.70 L708.50 411.78 L709.00 411.86 L709.50 411.94 L710.00 412.02 L710.50 412.10 L711.00 412.17 L711.50 412.25 L712.00 412.33 L712.50 412.40 L713.00 412.48 L713.50 412.55 L714.00 412.62 L714.50 412.70 L715.00 412.77 L715.50 412.84 L716.00 412.91 L716.50 412.98 L717.00 413.05 L717.50 413.12 L718.00 413.19 L718.50 413.25 L719.00 413.32 L719.50 413.39 L720.00 413.45 L720.50 413.52 L721.00 413.58 L721.50 413.65 L722.00 413.71 L722.50 413.78 L723.00 413.84 L723.50 413.90 L724.00 413.96 L724.50 414.02 L725.00 414.08 L725.50 414.14 L726.00 414.20 L726.50 414.26 L727.00 414.32 L727.50 414.38 L728.00 414.44 L728.50 414.49 L729.00 414.55 L729.50 414.60 L730.00 414.66 L730.50 414.71 L731.00 414.77 L731.50 414.82 L732.00 414.88 L732.50 414.93 L733.00 414.98 L733.50 415.03 L734.00 415.09 L734.50 415.14 L735.00 415.19 L735.50 415.24 L736.00 415.29 L736.50 415.34 L737.00 415.39 L737.50 415.44 L738.00 415.48 L738.50 415.53 L739.00 415.58 L739.50 415.63 L740.00 415.67 L740.50 415.72 L741.00 415.76 L741.50 415.81 L742.00 415.85 L742.50 415.90 L743.00 415.94 L743.50 415.99 L744.00 416.03 L744.50 416.07 L745.00 416.12 L745.50 416.16 L746.00 416.20 L746.50 416.24 L747.00 416.28 L747.50 416.32 L748.00 416.36 L748.50 416.40 L749.00 416.44 L749.50 416.48 L750.00 416.52 L750.50 416.56 L751.00 416.60 L751.50 416.64 L752.00 416.67 L752.50 416.71 L753.00 416.75 L753.50 416.79 L754.00 416.82 L754.50 416.86 L755.00 416.89 L755.50 416.93 L756.00 416.96 L756.50 417.00 L757.00 417.03 L757.50 417.07 L758.00 417.10 L758.50 417.14 L759.00 417.17 L759.50 417.20 L760.00 417.24 L760.50 417.27 L761.00 417.30 L761.50 417.33 L762.00 417.36 L762.50 417.40 L763.00 417.43 L763.50 417.46 L764.00 417.49 L764.50 417.52 L765.00 417.55 L765.50 417.58 L766.00 417.61 L766.50 417.64 L767.00 417.67 L767.50 417.69 L768.00 417.72 L768.50 417.75 L769.00 417.78 L769.50 417.81 L770.00 417.83 L770.50 417.86 L771.00 417.89 L771.50 417.92 L772.00 417.94 L772.50 417.97 L773.00 418.00 L773.50 418.02 L774.00 418.05 L774.50 418.07 L775.00 418.10 L775.50 418.12 L776.00 418.15 L776.50 418.17 L777.00 418.20 L777.50 418.22 L778.00 418.24 L778.50 418.27 L779.00 418.29 L779.50 418.32 L780.00 418.34 L780.50 418.36 L781.00 418.38 L781.50 418.41 L782.00 418.43 L782.50 418.45 L783.00 418.47 L783.50 418.49 L784.00 418.52 L784.50 418.54 L785.00 418.56 L785.50 418.58 L786.00 418.60 L786.50 418.62 L787.00 418.64 L787.50 418.66 L788.00 418.68 L788.50 418.70 L789.00 418.72 L789.50 418.74 L790.00 418.76 L790.50 418.78 L791.00 418.80 L791.50 418.82 L792.00 418.84 L792.50 418.86 L793.00 418.87 L793.50 418.89 L794.00 418.91 L794.50 418.93 L795.00 418.95 L795.50 418.96 L796.00 418.98 L796.50 419.00 L797.00 419.02 L797.50 419.03 L798.00 419.05 L798.50 419.07 L799.00 419.08 L799.50 419.10 L800.00 419.12 L800.50 419.13 L801.00 419.15 L801.50 419.16 L802.00 419.18 L802.50 419.20 L803.00 419.21 L803.50 419.23 L804.00 419.24 L804.50 419.26 L805.00 419.27 L805.50 419.29 L805.60 419.29" stroke="#0000ff" stroke-width="2.15"/>
<path d="M559.49 15.50 L559.50 15.56 L560.00 21.51 L560.50 27.37 L561.00 33.13 L561.50 38.81 L562.00 44.39 L562.50 49.89 L563.00 55.30 L563.50 60.62 L564.00 65.86 L564.50 71.02 L565.00 76.10 L565.50 81.10 L566.00 86.02 L566.50 90.86 L567.00 95.63 L567.50 100.33 L568.00 104.95 L568.50 109.50 L569.00 113.98 L569.50 118.39 L570.00 122.73 L570.50 127.00 L571.00 131.21 L571.50 135.35 L572.00 139.43 L572.50 143.44 L573.00 147.39 L573.50 151.29 L574.00 155.12 L574.50 158.89 L575.00 162.61 L575.50 166.26 L576.00 169.86 L576.50 173.41 L577.00 176.90 L577.50 180.34 L578.00 183.72 L578.50 187.06 L579.00 190.34 L579.50 193.57 L580.00 196.75 L580.50 199.89 L581.00 202.98 L581.50 206.02 L582.00 209.01 L582.50 211.96 L583.00 214.86 L583.50 217.72 L584.00 220.53 L584.50 223.31 L585.00 226.04 L585.50 228.73 L586.00 231.38 L586.50 233.99 L587.00 236.56 L587.50 239.09 L588.00 241.58 L588.50 244.04 L589.00 246.46 L589.50 248.84 L590.00 251.19 L590.50 253.50 L591.00 255.77 L591.50 258.02 L592.00 260.23 L592.50 262.40 L593.00 264.55 L593.50 266.66 L594.00 268.74 L594.50 270.79 L595.00 272.81 L595.50 274.80 L596.00 276.76 L596.50 278.69 L597.00 280.60 L597.50 282.47 L598.00 284.32 L598.50 286.14 L599.00 287.93 L599.50 289.70 L600.00 291.44 L600.50 293.16 L601.00 294.85 L601.50 296.51 L602.00 298.15 L602.50 299.77 L603.00 301.36 L603.50 302.93 L604.00 304.48 L604.50 306.01 L605.00 307.51 L605.50 308.99 L606.00 310.45 L606.50 311.89 L607.00 313.31 L607.50 314.71 L608.00 316.08 L608.50 317.44 L609.00 318.78 L609.50 320.10 L610.00 321.40 L610.50 322.68 L611.00 323.94 L611.50 325.19 L612.00 326.41 L612.50 327.62 L613.00 328.82 L613.50 329.99 L614.00 331.15 L614.50 332.29 L615.00 333.42 L615.50 334.53 L616.00 335.62 L616.50 336.70 L617.00 337.77 L617.50 338.82 L618.00 339.85 L618.50 340.87 L619.00 341.87 L619.50 342.87 L620.00 343.84 L620.50 344.81 L621.00 345.76 L621.50 346.69 L622.00 347.62 L622.50 348.53 L623.00 349.43 L623.50 350.31 L624.00 351.19 L624.50 352.05 L625.00 352.90 L625.50 353.74 L626.00 354.56 L626.50 355.38 L627.00 356.18 L627.50 356.97 L628.00 357.76 L628.50 358.53 L629.00 359.29 L629.50 360.04 L630.00 360.78 L630.50 361.51 L631.00 362.23 L631.50 362.94 L632.00 363.64 L632.50 364.33 L633.00 365.01 L633.50 365.69 L634.00 366.35 L634.50 367.00 L635.00 367.65 L635.50 368.29 L636.00 368.92 L636.50 369.54 L637.00 370.15 L637.50 370.75 L638.00 371.35 L638.50 371.93 L639.00 372.51 L639.50 373.09 L640.00 373.65 L640.50 374.21 L641.00 374.76 L641.50 375.30 L642.00 375.84 L642.50 376.36 L643.00 376.89 L643.50 377.40 L644.00 377.91 L644.50 378.41 L645.00 378.90 L645.50 379.39 L646.00 379.87 L646.50 380.35 L647.00 380.82 L647.50 381.28 L648.00 381.74 L648.50 382.19 L649.00 382.64 L649.50 383.08 L650.00 383.51 L650.50 383.94 L651.00 384.36 L651.50 384.78 L652.00 385.19 L652.50 385.60 L653.00 386.00 L653.50 386.40 L654.00 386.79 L654.50 387.17 L655.00 387.56 L655.50 387.93 L656.00 388.31 L656.50 388.67 L657.00 389.04 L657.50 389.39 L658.00 389.75 L658.50 390.10 L659.00 390.44 L659.50 390.78 L660.00 391.12 L660.50 391.45 L661.00 391.78 L661.50 392.10 L662.00 392.42 L662.50 392.74 L663.00 393.05 L663.50 393.36 L664.00 393.66 L664.50 393.96 L665.00 394.26 L665.50 394.55 L666.00 394.84 L666.50 395.13 L667.00 395.41 L667.50 395.69 L668.00 395.97 L668.50 396.24 L669.00 396.51 L669.50 396.77 L670.00 397.03 L670.50 397.29 L671.00 397.55 L671.50 397.80 L672.00 398.05 L672.50 398.30 L673.00 398.54 L673.50 398.78 L674.00 399.02 L674.50 399.26 L675.00 399.49 L675.50 399.72 L676.00 399.95 L676.50 400.17 L677.00 400.39 L677.50 400.61 L678.00 400.83 L678.50 401.04 L679.00 401.25 L679.50 401.46 L680.00 401.67 L680.50 401.87 L681.00 402.07 L681.50 402.27 L682.00 402.47 L682.50 402.66 L683.00 402.86 L683.50 403.05 L684.00 403.23 L684.50 403.42 L685.00 403.60 L685.50 403.78 L686.00 403.96 L686.50 404.14 L687.00 404.32 L687.50 404.49 L688.00 404.66 L688.50 404.83 L689.00 405.00 L689.50 405.16 L690.00 405.33 L690.50 405.49 L691.00 405.65 L691.50 405.80 L692.00 405.96 L692.50 406.11 L693.00 406.27 L693.50 406.42 L694.00 406.57 L694.50 406.71 L695.00 406.86 L695.50 407.00 L696.00 407.15 L696.50 407.29 L697.00 407.43 L697.50 407.56 L698.00 407.70 L698.50 407.84 L699.00 407.97 L699.50 408.10 L700.00 408.23 L700.50 408.36 L701.00 408.49 L701.50 408.61 L702.00 408.74 L702.50 408.86 L703.00 408.98 L703.50 409.10 L704.00 409.22 L704.50 409.34 L705.00 409.46 L705.50 409.57 L706.00 409.68 L706.50 409.80 L707.00 409.91 L707.50 410.02 L708.00 410.13 L708.50 410.24 L709.00 410.34 L709.50 410.45 L710.00 410.55 L710.50 410.66 L711.00 410.76 L711.50 410.86 L712.00 410.96 L712.50 411.06 L713.00 411.16 L713.50 411.25 L714.00 411.35 L714.50 411.44 L715.00 411.54 L715.50 411.63 L716.00 411.72 L716.50 411.81 L717.00 411.90 L717.50 411.99 L718.00 412.08 L718.50 412.16 L719.00 412.25 L719.50 412.34 L720.00 412.42 L720.50 412.50 L721.00 412.59 L721.50 412.67 L722.00 412.75 L722.50 412.83 L723.00 412.91 L723.50 412.99 L724.00 413.06 L724.50 413.14 L725.00 413.21 L725.50 413.29 L726.00 413.36 L726.50 413.44 L727.00 413.51 L727.50 413.58 L728.00 413.65 L728.50 413.72 L729.00 413.79 L729.50 413.86 L730.00 413.93 L730.50 414.00 L731.00 414.06 L731.50 414.13 L732.00 414.20 L732.50 414.26 L733.00 414.33 L733.50 414.39 L734.00 414.45 L734.50 414.51 L735.00 414.58 L735.50 414.64 L736.00 414.70 L736.50 414.76 L737.00 414.82 L737.50 414.87 L738.00 414.93 L738.50 414.99 L739.00 415.05 L739.50 415.10 L740.00 415.16 L740.50 415.21 L741.00 415.27 L741.50 415.32 L742.00 415.37 L742.50 415.43 L743.00 415.48 L743.50 415.53 L744.00 415.58 L744.50 415.63 L745.00 415.68 L745.50 415.73 L746.00 415.78 L746.50 415.83 L747.00 415.88 L747.50 415.93 L748.00 415.97 L748.50 416.02 L749.00 416.07 L749.50 416.11 L750.00 416.16 L750.50 416.20 L751.00 416.25 L751.50 416.29 L752.00 416.34 L752.50 416.38 L753.00 416.42 L753.50 416.46 L754.00 416.51 L754.50 416.55 L755.00 416.59 L755.50 416.63 L756.00 416.67 L756.50 416.71 L757.00 416.75 L757.50 416.79 L758.00 416.83 L758.50 416.87 L759.00 416.90 L759.50 416.94 L760.00 416.98 L760.50 417.02 L761.00 417.05 L761.50 417.09 L762.00 417.13 L762.50 417.16 L763.00 417.20 L763.50 417.23 L764.00 417.27 L764.50 417.30 L765.00 417.33 L765.50 417.37 L766.00 417.40 L766.50 417.43 L767.00 417.47 L767.50 417.50 L768.00 417.53 L768.50 417.56 L769.00 417.59 L769.50 417.62 L770.00 417.65 L770.50 417.68 L771.00 417.72 L771.50 417.74 L772.00 417.77 L772.50 417.80 L773.00 417.83 L773.50 417.86 L774.00 417.89 L774.50 417.92 L775.00 417.95 L775.50 417.97 L776.00 418.00 L776.50 418.03 L777.00 418.06 L777.50 418.08 L778.00 418.11 L778.50 418.13 L779.00 418.16 L779.50 418.19 L780.00 418.21 L780.50 418.24 L781.00 418.26 L781.50 418.29 L782.00 418.31 L782.50 418.33 L783.00 418.36 L783.50 418.38 L784.00 418.41 L784.50 418.43 L785.00 418.45 L785.50 418.47 L786.00 418.50 L786.50 418.52 L787.00 418.54 L787.50 418.56 L788.00 418.59 L788.50 418.61 L789.00 418.63 L789.50 418.65 L790.00 418.67 L790.50 418.69 L791.00 418.71 L791.50 418.73 L792.00 418.75 L792.50 418.77 L793.00 418.79 L793.50 418.81 L794.00 418.83 L794.50 418.85 L795.00 418.87 L795.50 418.89 L796.00 418.91 L796.50 418.93 L797.00 418.95 L797.50 418.96 L798.00 418.98 L798.50 419.00 L799.00 419.02 L799.50 419.04 L800.00 419.05 L800.50 419.07 L801.00 419.09 L801.50 419.10 L802.00 419.12 L802.50 419.14 L803.00 419.15 L803.50 419.17 L804.00 419.19 L804.50 419.20 L805.00 419.22 L805.50 419.23 L805.60 419.24" stroke="#ff8000" stroke-width="2.15"/>
<path d="M680.90 15.50 L680.90 16.00 L680.90 16.50 L680.90 17.00 L680.90 17.50 L680.91 18.00 L680.91 18.50 L680.91 19.00 L680.91 19.50 L680.91 20.00 L680.91 20.50 L680.91 21.00 L680.92 21.50 L680.92 22.00 L680.92 22.50 L680.92 23.00 L680.92 23.50 L680.92 24.00 L680.92 24.50 L680.92 25.00 L680.93 25.50 L680.93 26.00 L680.93 26.50 L680.93 27.00 L680.93 27.50 L680.93 28.00 L680.93 28.50 L680.94 29.00 L680.94 29.50 L680.94 30.00 L680.94 30.50 L680.94 31.00 L680.94 31.50 L680.94 32.00 L680.95 32.50 L680.95 33.00 L680.95 33.50 L680.95 34.00 L680.95 34.50 L680.95 35.00 L680.95 35.50 L680.96 36.00 L680.96 36.50 L680.96 37.00 L680.96 37.50 L680.96 38.00 L680.96 38.50 L680.97 39.00 L680.97 39.50 L680.97 40.00 L680.97 40.50 L680.97 41.00 L680.97 41.50 L680.98 42.00 L680.98 42.50 L680.98 43.00 L680.98 43.50 L680.98 44.00 L680.98 44.50 L680.98 45.00 L680.99 45.50 L680.99 46.00 L680.99 46.50 L680.99 47.00 L680.99 47.50 L680.99 48.00 L681.00 48.50 L681.00 49.00 L681.00 49.50 L681.00 50.00 L681.00 50.50 L681.01 51.00 L681.01 51.50 L681.01 52.00 L681.01 52.50 L681.01 53.00 L681.01 53.50 L681.02 54.00 L681.02 54.50 L681.02 55.00 L681.02 55.50 L681.02 56.00 L681.02 56.50 L681.03 57.00 L681.03 57.50 L681.03 58.00 L681.03 58.50 L681.03 59.00 L681.04 59.50 L681.04 60.00 L681.04 60.50 L681.04 61.00 L681.04 61.50 L681.04 62.00 L681.05 62.50 L681.05 63.00 L681.05 63.50 L681.05 64.00 L681.05 64.50 L681.06 65.00 L681.06 65.50 L681.06 66.00 L681.06 66.50 L681.06 67.00 L681.07 67.50 L681.07 68.00 L681.07 68.50 L681.07 69.00 L681.07 69.50 L681.07 70.00 L681.08 70.50 L681.08 71.00 L681.08 71.50 L681.08 72.00 L681.08 72.50 L681.09 73.00 L681.09 73.50 L681.09 74.00 L681.09 74.50 L681.09 75.00 L681.10 75.50 L681.10 76.00 L681.10 76.50 L681.10 77.00 L681.10 77.50 L681.11 78.00 L681.11 78.50 L681.11 79.00 L681.11 79.50 L681.11 80.00 L681.12 80.50 L681.12 81.00 L681.12 81.50 L681.12 82.00 L681.12 82.50 L681.13 83.00 L681.13 83.50 L681.13 84.00 L681.13 84.50 L681.14 85.00 L681.14 85.50 L681.14 86.00 L681.14 86.50 L681.14 87.00 L681.15 87.50 L681.15 88.00 L681.15 88.50 L681.15 89.00 L681.15 89.50 L681.16 90.00 L681.16 90.50 L681.16 91.00 L681.16 91.50 L681.17 92.00 L681.17 92.50 L681.17 93.00 L681.17 93.50 L681.17 94.00 L681.18 94.50 L681.18 95.00 L681.18 95.50 L681.18 96.00 L681.18 96.50 L681.19 97.00 L681.19 97.50 L681.19 98.00 L681.19 98.50 L681.20 99.00 L681.20 99.50 L681.20 100.00 L681.20 100.50 L681.20 101.00 L681.21 101.50 L681.21 102.00 L681.21 102.50 L681.21 103.00 L681.22 103.50 L681.22 104.00 L681.22 104.50 L681.22 105.00 L681.23 105.50 L681.23 106.00 L681.23 106.50 L681.23 107.00 L681.23 107.50 L681.24 108.00 L681.24 108.50 L681.24 109.00 L681.24 109.50 L681.25 110.00 L681.25 110.50 L681.25 111.00 L681.25 111.50 L681.26 112.00 L681.26 112.50 L681.26 113.00 L681.26 113.50 L681.27 114.00 L681.27 114.50 L681.27 115.00 L681.27 115.50 L681.28 116.00 L681.28 116.50 L681.28 117.00 L681.28 117.50 L681.29 118.00 L681.29 118.50 L681.29 119.00 L681.29 119.50 L681.30 120.00 L681.30 120.50 L681.30 121.00 L681.31 121.50 L681.31 122.00 L681.31 122.50 L681.31 123.00 L681.32 123.50 L681.32 124.00 L681.32 124.50 L681.32 125.00 L681.33 125.50 L681.33 126.00 L681.33 126.50 L681.33 127.00 L681.34 127.50 L681.34 128.00 L681.34 128.50 L681.35 129.00 L681.35 129.50 L681.35 130.00 L681.35 130.50 L681.36 131.00 L681.36 131.50 L681.36 132.00 L681.37 132.50 L681.37 133.00 L681.37 133.50 L681.37 134.00 L681.38 134.50 L681.38 135.00 L681.38 135.50 L681.39 136.00 L681.39 136.50 L681.39 137.00 L681.39 137.50 L681.40 138.00 L681.40 138.50 L681.40 139.00 L681.41 139.50 L681.41 140.00 L681.41 140.50 L681.42 141.00 L681.42 141.50 L681.42 142.00 L681.42 142.50 L681.43 143.00 L681.43 143.50 L681.43 144.00 L681.44 144.50 L681.44 145.00 L681.44 145.50 L681.45 146.00 L681.45 146.50 L681.45 147.00 L681.45 147.50 L681.46 148.00 L681.46 148.50 L681.46 149.00 L681.47 149.50 L681.47 150.00 L681.47 150.50 L681.48 151.00 L681.48 151.50 L681.48 152.00 L681.49 152.50 L681.49 153.00 L681.49 153.50 L681.49 154.00 L681.50 154.50 L681.50 155.00 L681.50 155.50 L681.51 156.00 L681.51 156.50 L681.51 157.00 L681.52 157.50 L681.52 158.00 L681.52 158.50 L681.53 159.00 L681.53 159.50 L681.53 160.00 L681.54 160.50 L681.54 161.00 L681.54 161.50 L681.55 162.00 L681.55 162.50 L681.55 163.00 L681.56 163.50 L681.56 164.00 L681.56 164.50 L681.56 165.00 L681.57 165.50 L681.57 166.00 L681.57 166.50 L681.58 167.00 L681.58 167.50 L681.58 168.00 L681.59 168.50 L681.59 169.00 L681.59 169.50 L681.60 170.00 L681.60 170.50 L681.60 171.00 L681.61 171.50 L681.61 172.00 L681.61 172.50 L681.62 173.00 L681.62 173.50 L681.62 174.00 L681.63 174.50 L681.63 175.00 L681.63 175.50 L681.64 176.00 L681.64 176.50 L681.64 177.00 L681.65 177.50 L681.65 178.00 L681.65 178.50 L681.66 179.00 L681.66 179.50 L681.66 180.00 L681.67 180.50 L681.67 181.00 L681.67 181.50 L681.68 182.00 L681.68 182.50 L681.68 183.00 L681.69 183.50 L681.69 184.00 L681.69 184.50 L681.70 185.00 L681.70 185.50 L681.70 186.00 L681.71 186.50 L681.71 187.00 L681.71 187.50 L681.72 188.00 L681.72 188.50 L681.72 189.00 L681.73 189.50 L681.73 190.00 L681.74 190.50 L681.74 191.00 L681.74 191.50 L681.75 192.00 L681.75 192.50 L681.75 193.00 L681.76 193.50 L681.76 194.00 L681.76 194.50 L681.77 195.00 L681.77 195.50 L681.77 196.00 L681.78 196.50 L681.78 197.00 L681.78 197.50 L681.79 198.00 L681.79 198.50 L681.79 199.00 L681.80 199.50 L681.80 200.00 L681.80 200.50 L681.81 201.00 L681.81 201.50 L681.81 202.00 L681.82 202.50 L681.82 203.00 L681.82 203.50 L681.83 204.00 L681.83 204.50 L681.83 205.00 L681.84 205.50 L681.84 206.00 L681.84 206.50 L681.85 207.00 L681.85 207.50 L681.86 208.00 L681.86 208.50 L681.86 209.00 L681.87 209.50 L681.87 210.00 L681.87 210.50 L681.88 211.00 L681.88 211.50 L681.88 212.00 L681.89 212.50 L681.89 213.00 L681.89 213.50 L681.90 214.00 L681.90 214.50 L681.90 215.00 L681.91 215.50 L681.91 216.00 L681.92 216.50 L681.92 217.00 L681.92 217.50 L681.93 218.00 L681.93 218.50 L681.93 219.00 L681.94 219.50 L681.94 220.00 L681.94 220.50 L681.95 221.00 L681.95 221.50 L681.96 222.00 L681.96 222.50 L681.96 223.00 L681.97 223.50 L681.97 224.00 L681.97 224.50 L681.98 225.00 L681.98 225.50 L681.98 226.00 L681.99 226.50 L681.99 227.00 L682.00 227.50 L682.00 228.00 L682.00 228.50 L682.01 229.00 L682.01 229.50 L682.01 230.00 L682.02 230.50 L682.02 231.00 L682.02 231.50 L682.03 232.00 L682.03 232.50 L682.04 233.00 L682.04 233.50 L682.04 234.00 L682.05 234.50 L682.05 235.00 L682.05 235.50 L682.06 236.00 L682.06 236.50 L682.07 237.00 L682.07 237.50 L682.07 238.00 L682.08 238.50 L682.08 239.00 L682.09 239.50 L682.09 240.00 L682.09 240.50 L682.10 241.00 L682.10 241.50 L682.10 242.00 L682.11 242.50 L682.11 243.00 L682.12 243.50 L682.12 244.00 L682.12 244.50 L682.13 245.00 L682.13 245.50 L682.14 246.00 L682.14 246.50 L682.14 247.00 L682.15 247.50 L682.15 248.00 L682.16 248.50 L682.16 249.00 L682.16 249.50 L682.17 250.00 L682.17 250.50 L682.17 251.00 L682.18 251.50 L682.18 252.00 L682.19 252.50 L682.19 253.00 L682.19 253.50 L682.20 254.00 L682.20 254.50 L682.21 255.00 L682.21 255.50 L682.21 256.00 L682.22 256.50 L682.22 257.00 L682.23 257.50 L682.23 258.00 L682.24 258.50 L682.24 259.00 L682.24 259.50 L682.25 260.00 L682.25 260.50 L682.26 261.00 L682.26 261.50 L682.26 262.00 L682.27 262.50 L682.27 263.00 L682.28 263.50 L682.28 264.00 L682.28 264.50 L682.29 265.00 L682.29 265.50 L682.30 266.00 L682.30 266.50 L682.31 267.00 L682.31 267.50 L682.31 268.00 L682.32 268.50 L682.32 269.00 L682.33 269.50 L682.33 270.00 L682.33 270.50 L682.34 271.00 L682.34 271.50 L682.35 272.00 L682.35 272.50 L682.36 273.00 L682.36 273.50 L682.36 274.00 L682.37 274.50 L682.37 275.00 L682.38 275.50 L682.38 276.00 L682.39 276.50 L682.39 277.00 L682.40 277.50 L682.40 278.00 L682.40 278.50 L682.41 279.00 L682.41 279.50 L682.42 280.00 L682.42 280.50 L682.43 281.00 L682.43 281.50 L682.43 282.00 L682.44 282.50 L682.44 283.00 L682.45 283.50 L682.45 284.00 L682.46 284.50 L682.46 285.00 L682.47 285.50 L682.47 286.00 L682.47 286.50 L682.48 287.00 L682.48 287.50 L682.49 288.00 L682.49 288.50 L682.50 289.00 L682.50 289.50 L682.51 290.00 L682.51 290.50 L682.52 291.00 L682.52 291.50 L682.53 292.00 L682.53 292.50 L682.53 293.00 L682.54 293.50 L682.54 294.00 L682.55 294.50 L682.55 295.00 L682.56 295.50 L682.56 296.00 L682.57 296.50 L682.57 297.00 L682.58 297.50 L682.58 298.00 L682.59 298.50 L682.59 299.00 L682.60 299.50 L682.60 300.00 L682.60 300.50 L682.61 301.00 L682.61 301.50 L682.62 302.00 L682.62 302.50 L682.63 303.00 L682.63 303.50 L682.64 304.00 L682.64 304.50 L682.65 305.00 L682.65 305.50 L682.66 306.00 L682.66 306.50 L682.66 307.00 L682.67 307.50 L682.67 308.00 L682.68 308.50 L682.68 309.00 L682.69 309.50 L682.69 310.00 L682.70 310.50 L682.70 311.00 L682.71 311.50 L682.71 312.00 L682.71 312.50 L682.72 313.00 L682.72 313.50 L682.73 314.00 L682.73 314.50 L682.74 315.00 L682.74 315.50 L682.75 316.00 L682.75 316.50 L682.75 317.00 L682.76 317.50 L682.76 318.00 L682.77 318.50 L682.77 319.00 L682.78 319.50 L682.78 320.00 L682.79 320.50 L682.79 321.00 L682.80 321.50 L682.80 322.00 L682.80 322.50 L682.81 323.00 L682.81 323.50 L682.82 324.00 L682.82 324.50 L682.83 325.00 L682.83 325.50 L682.84 326.00 L682.84 326.50 L682.85 327.00 L682.85 327.50 L682.86 328.00 L682.86 328.50 L682.87 329.00 L682.87 329.50 L682.88 330.00 L682.88 330.50 L682.89 331.00 L682.89 331.50 L682.90 332.00 L682.90 332.50 L682.91 333.00 L682.91 333.50 L682.92 334.00 L682.92 334.50 L682.93 335.00 L682.93 335.50 L682.94 336.00 L682.94 336.50 L682.95 337.00 L682.95 337.50 L682.96 338.00 L682.96 338.50 L682.97 339.00 L682.97 339.50 L682.98 340.00 L682.98 340.50 L682.99 341.00 L682.99 341.50 L683.00 342.00 L683.01 342.50 L683.01 343.00 L683.02 343.50 L683.02 344.00 L683.03 344.50 L683.03 345.00 L683.04 345.50 L683.05 346.00 L683.05 346.50 L683.06 347.00 L683.06 347.50 L683.07 348.00 L683.08 348.50 L683.08 349.00 L683.09 349.50 L683.10 350.00 L683.10 350.50 L683.11 351.00 L683.12 351.50 L683.12 352.00 L683.13 352.50 L683.14 353.00 L683.14 353.50 L683.15 354.00 L683.16 354.50 L683.16 355.00 L683.17 355.50 L683.18 356.00 L683.18 356.50 L683.19 357.00 L683.20 357.50 L683.21 358.00 L683.21 358.50 L683.22 359.00 L683.23 359.50 L683.23 360.00 L683.24 360.50 L683.25 361.00 L683.26 361.50 L683.27 362.00 L683.27 362.50 L683.28 363.00 L683.29 363.50 L683.30 364.00 L683.31 364.50 L683.31 365.00 L683.32 365.50 L683.33 366.00 L683.34 366.50 L683.35 367.00 L683.36 367.50 L683.36 368.00 L683.37 368.50 L683.38 369.00 L683.39 369.50 L683.40 370.00 L683.41 370.50 L683.42 371.00 L683.43 371.50 L683.44 372.00 L683.45 372.50 L683.46 373.00 L683.47 373.50 L683.48 374.00 L683.49 374.50 L683.51 375.00 L683.52 375.50 L683.53 376.00 L683.54 376.50 L683.56 377.00 L683.57 377.50 L683.58 378.00 L683.60 378.50 L683.61 379.00 L683.63 379.50 L683.64 380.00 L683.66 380.50 L683.67 381.00 L683.69 381.50 L683.70 382.00 L683.72 382.50 L683.74 383.00 L683.75 383.50 L683.77 384.00 L683.79 384.50 L683.80 385.00 L683.82 385.50 L683.84 386.00 L683.86 386.50 L683.88 387.00 L683.90 387.50 L683.92 388.00 L683.94 388.50 L683.96 389.00 L683.98 389.50 L684.00 390.00 L684.02 390.50 L684.04 391.00 L684.07 391.50 L684.09 392.00 L684.11 392.50 L684.14 393.00 L684.17 393.50 L684.19 394.00 L684.22 394.50 L684.25 395.00 L684.28 395.50 L684.31 396.00 L684.34 396.50 L684.37 397.00 L684.41 397.50 L684.44 398.00 L684.47 398.50 L684.51 399.00 L684.55 399.50 L684.58 400.00 L684.62 400.50 L684.66 401.00 L684.70 401.50 L684.74 402.00 L684.79 402.50 L684.83 403.00 L684.87 403.50 L684.92 404.00 L684.96 404.50 L685.01 405.00 L685.06 405.50 L685.12 406.00 L685.17 406.50 L685.23 407.00 L685.29 407.50 L685.35 408.00 L685.42 408.50 L685.49 409.00 L685.56 409.50 L685.64 410.00 L685.72 410.50 L685.81 411.00 L685.90 411.50 L686.00 412.00 L686.11 412.50 L686.22 413.00 L686.35 413.50 L686.50 414.00 L686.67 414.50 L686.86 415.00 L687.07 415.50 L687.30 416.00 L687.61 416.50 L688.03 417.00 L688.50 417.50" stroke="#ff0000" stroke-width="2.15"/>
<path d="M144.50 217.85 L145.50 217.86 L146.50 217.88 L147.50 217.89 L148.50 217.91 L149.50 217.92 L150.50 217.93 L151.50 217.95 L152.50 217.96 L153.50 217.98 L154.50 217.99 L155.50 218.01 L156.50 218.03 L157.50 218.04 L158.50 218.06 L159.50 218.08 L160.50 218.09 L161.50 218.11 L162.50 218.13 L163.50 218.15 L164.50 218.17 L165.50 218.18 L166.50 218.20 L167.50 218.22 L168.50 218.24 L169.50 218.26 L170.50 218.28 L171.50 218.30 L172.50 218.33 L173.50 218.35 L174.50 218.37 L175.50 218.39 L176.50 218.41 L177.50 218.44 L178.50 218.46 L179.50 218.48 L180.50 218.51 L181.50 218.53 L182.50 218.56 L183.50 218.58 L184.50 218.61 L185.50 218.64 L186.50 218.66 L187.50 218.69 L188.50 218.72 L189.50 218.75 L190.50 218.78 L191.50 218.81 L192.50 218.84 L193.50 218.87 L194.50 218.90 L195.50 218.93 L196.50 218.96 L197.50 218.99 L198.50 219.03 L199.50 219.06 L200.50 219.10 L201.50 219.13 L202.50 219.17 L203.50 219.20 L204.50 219.24 L205.50 219.28 L206.50 219.31 L207.50 219.35 L208.50 219.39 L209.50 219.43 L210.50 219.47 L211.50 219.52 L212.50 219.56 L213.50 219.60 L214.50 219.64 L215.50 219.69 L216.50 219.73 L217.50 219.78 L218.50 219.83 L219.50 219.87 L220.50 219.92 L221.50 219.97 L222.50 220.02 L223.50 220.07 L224.50 220.13 L225.50 220.18 L226.50 220.23 L227.50 220.29 L228.50 220.34 L229.50 220.40 L230.50 220.46 L231.50 220.51 L232.50 220.57 L233.50 220.63 L234.50 220.70 L235.50 220.76 L236.50 220.82 L237.50 220.89 L238.50 220.95 L239.50 221.02 L240.50 221.09 L241.50 221.16 L242.50 221.23 L243.50 221.30 L244.50 221.37 L245.50 221.45 L246.50 221.52 L247.50 221.60 L248.50 221.68 L249.50 221.76 L250.50 221.84 L251.50 221.92 L252.50 222.00 L253.50 222.09 L254.50 222.17 L255.50 222.26 L256.50 222.35 L257.50 222.44 L258.50 222.53 L259.50 222.63 L260.50 222.72 L261.50 222.82 L262.50 222.92 L263.50 223.02 L264.50 223.12 L265.50 223.22 L266.50 223.33 L267.50 223.44 L268.50 223.55 L269.50 223.66 L270.50 223.77 L271.50 223.88 L272.50 224.00 L273.50 224.12 L274.50 224.24 L275.50 224.36 L276.50 224.49 L277.50 224.61 L278.50 224.74 L279.50 224.87 L280.50 225.01 L281.50 225.14 L282.50 225.28 L283.50 225.42 L284.50 225.56 L285.50 225.71 L286.50 225.85 L287.50 226.00 L288.50 226.15 L289.50 226.31 L290.50 226.46 L291.50 226.62 L292.50 226.78 L293.50 226.95 L294.50 227.12 L295.50 227.29 L296.50 227.46 L297.50 227.63 L298.50 227.81 L299.50 227.99 L300.50 228.18 L301.50 228.36 L302.50 228.55 L303.50 228.75 L304.50 228.94 L305.50 229.14 L306.50 229.35 L307.50 229.55 L308.50 229.76 L309.50 229.97 L310.50 230.19 L311.50 230.41 L312.50 230.63 L313.50 230.86 L314.50 231.09 L315.50 231.32 L316.50 231.56 L317.50 231.80 L318.50 232.04 L319.50 232.29 L320.50 232.54 L321.50 232.80 L322.50 233.06 L323.50 233.32 L324.50 233.59 L325.50 233.86 L326.50 234.14 L327.50 234.42 L328.50 234.70 L329.50 234.99 L330.50 235.29 L331.50 235.58 L332.50 235.89 L333.50 236.19 L334.50 236.50 L335.50 236.82 L336.50 237.14 L337.50 237.47 L338.50 237.80 L339.50 238.13 L340.50 238.47 L341.50 238.82 L342.50 239.17 L343.50 239.53 L344.50 239.89 L345.50 240.25 L346.50 240.62 L347.50 241.00 L348.50 241.38 L349.50 241.77 L350.50 242.16 L351.50 242.56 L352.50 242.96 L353.50 243.37 L354.50 243.79 L355.50 244.21 L356.50 244.64 L357.50 245.07 L358.50 245.51 L359.50 245.95 L360.50 246.41 L361.50 246.86 L362.50 247.33 L363.50 247.79 L364.50 248.27 L365.50 248.75 L366.50 249.24 L367.50 249.73 L368.50 250.24 L369.50 250.74 L370.50 251.26 L371.50 251.78 L372.50 252.30 L373.50 252.84 L374.50 253.38 L375.50 253.92 L376.50 254.48 L377.50 255.04 L378.50 255.61 L379.50 256.18 L380.50 256.76 L381.50 257.35 L382.50 257.95 L383.50 258.55 L384.50 259.16 L385.50 259.77 L386.50 260.39 L387.50 261.02 L388.50 261.66 L389.50 262.31 L390.50 262.96 L391.50 263.62 L392.50 264.28 L393.50 264.95 L394.50 265.63 L395.50 266.32 L396.50 267.01 L397.50 267.71 L398.50 268.42 L399.50 269.14 L400.50 269.86 L401.50 270.59 L402.50 271.33 L403.50 272.07 L404.50 272.82 L405.50 273.58 L406.50 274.34 L407.50 275.11 L408.50 275.89 L409.50 276.67 L410.50 277.46 L411.50 278.26 L412.50 279.07 L413.50 279.88 L414.50 280.69 L415.50 281.52 L416.50 282.35 L417.50 283.19 L418.50 284.03 L419.50 284.88 L420.50 285.73 L421.50 286.59 L422.50 287.46 L423.50 288.33 L424.50 289.21 L425.50 290.09 L426.50 290.98 L427.50 291.88 L428.50 292.78 L429.50 293.68 L430.50 294.59 L431.50 295.51 L432.50 296.42 L433.50 297.35 L434.50 298.28 L435.50 299.21 L436.50 300.15 L437.50 301.09 L438.50 302.03 L439.50 302.98 L440.50 303.93 L441.50 304.89 L442.50 305.84 L443.50 306.81 L444.50 307.77 L445.50 308.74 L446.50 309.71 L447.50 310.68 L448.50 311.65 L449.50 312.63 L450.50 313.60 L451.50 314.58 L452.50 315.56 L453.50 316.55 L454.50 317.53 L455.50 318.51 L456.50 319.50 L457.50 320.48 L458.50 321.47 L459.50 322.45 L460.50 323.44 L461.50 324.42 L462.50 325.41 L463.50 326.39 L464.50 327.37 L465.50 328.35 L466.50 329.33 L467.50 330.31 L468.50 331.29 L469.50 332.27 L470.50 333.24 L471.50 334.21 L472.50 335.18 L473.50 336.15 L474.50 337.11 L475.50 338.07 L476.50 339.03 L477.50 339.99 L478.50 340.94 L479.50 341.89 L480.50 342.83 L481.50 343.77 L482.50 344.71 L483.50 345.64 L484.50 346.57 L485.50 347.50 L486.50 348.42 L487.50 349.33 L488.50 350.24 L489.50 351.15 L490.50 352.05 L491.50 352.95 L492.50 353.84 L493.50 354.73 L494.50 355.61 L495.50 356.49 L496.50 357.36 L497.50 358.22 L498.50 359.08 L499.50 359.94 L500.50 360.79 L501.50 361.63 L502.50 362.46 L503.50 363.30 L504.50 364.12 L505.50 364.94 L506.50 365.75 L507.50 366.56 L508.50 367.36 L509.50 368.15 L510.50 368.94 L511.50 369.72 L512.50 370.50 L513.50 371.26 L514.50 372.02 L515.50 372.78 L516.50 373.52 L517.50 374.26 L518.50 375.00 L519.50 375.72 L520.50 376.44 L521.50 377.15 L522.50 377.86 L523.50 378.55 L524.50 379.24 L525.50 379.92 L526.50 380.60 L527.50 381.26 L528.50 381.92 L529.50 382.57 L530.50 383.21 L531.50 383.84 L532.50 384.47 L533.50 385.09 L534.50 385.69 L535.50 386.29 L536.50 386.88 L537.50 387.47 L538.50 388.04 L539.50 388.61 L540.50 389.16 L541.50 389.71 L542.50 390.25 L543.50 390.78 L544.50 391.30 L545.50 391.81 L546.50 392.32 L547.50 392.81 L548.50 393.30 L549.50 393.77 L550.50 394.24 L551.50 394.70 L552.50 395.15 L553.50 395.59 L554.50 396.03 L555.50 396.45 L556.50 396.87 L557.50 397.29 L558.50 397.69 L559.50 398.09 L560.50 398.48 L561.50 398.86 L562.50 399.24 L563.50 399.61 L564.50 399.97 L565.50 400.32 L566.50 400.67 L567.50 401.01 L568.50 401.35 L569.50 401.68 L570.50 402.00 L571.50 402.32 L572.50 402.63 L573.50 402.93 L574.50 403.23 L575.50 403.53 L576.50 403.82 L577.50 404.10 L578.50 404.38 L579.50 404.65 L580.50 404.92 L581.50 405.18 L582.50 405.44 L583.50 405.70 L584.50 405.95 L585.50 406.19 L586.50 406.43 L587.50 406.67 L588.50 406.90 L589.50 407.13 L590.50 407.36 L591.50 407.58 L592.50 407.80 L593.50 408.01 L594.50 408.22 L595.50 408.43 L596.50 408.64 L597.50 408.84 L598.50 409.04 L599.50 409.23 L600.50 409.43 L601.50 409.62 L602.50 409.80 L603.50 409.99 L604.50 410.17 L605.50 410.35 L606.50 410.53 L607.50 410.70 L608.50 410.87 L609.50 411.04 L610.50 411.21 L611.50 411.37 L612.50 411.54 L613.50 411.70 L614.50 411.85 L615.50 412.01 L616.50 412.16 L617.50 412.31 L618.50 412.46 L619.50 412.61 L620.50 412.75 L621.50 412.90 L622.50 413.04 L623.50 413.18 L624.50 413.31 L625.50 413.45 L626.50 413.58 L627.50 413.71 L628.50 413.84 L629.50 413.97 L630.50 414.09 L631.50 414.21 L632.50 414.33 L633.50 414.45 L634.50 414.57 L635.50 414.69 L636.50 414.80 L637.50 414.91 L638.50 415.02 L639.50 415.13 L640.50 415.24 L641.50 415.34 L642.50 415.44 L643.50 415.55 L644.50 415.64 L645.50 415.74 L646.50 415.84 L647.50 415.94 L648.50 416.03 L649.50 416.12 L650.50 416.21 L651.50 416.30 L652.50 416.39 L653.50 416.47 L654.50 416.56 L655.50 416.64 L656.50 416.72 L657.50 416.80 L658.50 416.88 L659.50 416.96 L660.50 417.04 L661.50 417.11 L662.50 417.19 L663.50 417.26 L664.50 417.33 L665.50 417.40 L666.50 417.47 L667.50 417.54 L668.50 417.60 L669.50 417.67 L670.50 417.73 L671.50 417.80 L672.50 417.86 L673.50 417.92 L674.50 417.98 L675.50 418.04 L676.50 418.09 L677.50 418.15 L678.50 418.20 L679.50 418.26 L680.50 418.31 L681.50 418.36 L682.50 418.41 L683.50 418.46 L684.50 418.51 L685.50 418.56 L686.50 418.61 L687.50 418.65 L688.50 418.70 L689.50 418.74 L690.50 418.78 L691.50 418.82 L692.50 418.86 L693.50 418.90 L694.50 418.94 L695.50 418.98 L696.50 419.02 L697.50 419.05 L698.50 419.09 L699.50 419.12 L700.50 419.16 L701.50 419.19 L702.50 419.22 L703.50 419.25 L704.50 419.28 L705.50 419.31 L706.50 419.34 L707.50 419.37 L708.50 419.39 L709.50 419.42 L710.50 419.44 L711.50 419.47 L712.50 419.49 L713.50 419.52 L714.50 419.54 L715.50 419.56 L716.50 419.58 L717.50 419.60 L718.50 419.62 L719.50 419.64 L720.50 419.66 L721.50 419.68 L722.50 419.70 L723.50 419.72 L724.50 419.73 L725.50 419.75 L726.50 419.77 L727.50 419.78 L728.50 419.80 L729.50 419.81 L730.50 419.83 L731.50 419.85 L732.50 419.86 L733.50 419.88 L734.50 419.89 L735.50 419.91 L736.50 419.92 L737.50 419.93 L738.50 419.95 L739.50 419.96 L740.50 419.98 L741.50 419.99 L742.50 420.00 L743.50 420.02 L744.50 420.03 L745.50 420.04 L746.50 420.06 L747.50 420.07 L748.50 420.08 L749.50 420.10 L750.50 420.11 L751.50 420.12 L752.50 420.13 L753.50 420.15 L754.50 420.16 L755.50 420.17 L756.50 420.18 L757.50 420.19 L758.50 420.21 L759.50 420.22 L760.50 420.23 L761.50 420.24 L762.50 420.25 L763.50 420.26 L764.50 420.28 L765.50 420.29 L766.50 420.30 L767.50 420.31 L768.50 420.32 L769.50 420.33 L770.50 420.34 L771.50 420.35 L772.50 420.36 L773.50 420.37 L774.50 420.38 L775.50 420.39 L776.50 420.40 L777.50 420.41 L778.50 420.42 L779.50 420.43 L780.50 420.44 L781.50 420.45 L782.50 420.45 L783.50 420.46 L784.50 420.47 L785.50 420.48 L786.50 420.49 L787.50 420.50 L788.50 420.50 L789.50 420.51 L790.50 420.52 L791.50 420.53 L792.50 420.54 L793.50 420.54 L794.50 420.55 L795.50 420.56 L796.50 420.56 L797.50 420.57 L798.50 420.58 L799.50 420.58 L800.50 420.59 L801.50 420.60 L802.50 420.60 L803.50 420.61 L804.50 420.62 L805.50 420.62 L805.60 420.62" stroke="#800080" stroke-width="2.15"/>
</g>
<g font-size="29px" style="opacity:0.999" stroke="#000" stroke-width="0.35">
<path transform="translate(71.06,27.05) scale(0.01416,-0.01416)" d="M763 0H583V1147Q518 1085 412.5 1023T223 930V1104Q374 1175 487 1276T647 1472H763Z" stroke-width="24.7"/><text transform="translate(87.19,27.05) scale(1,1.035)">.00</text><rect x="54.6" y="17.75" width="13.5" height="2.1" stroke="none"/><path transform="translate(71.06,87.72) scale(0.01416,-0.01416)" d="M763 0H583V1147Q518 1085 412.5 1023T223 930V1104Q374 1175 487 1276T647 1472H763Z" stroke-width="24.7"/><text transform="translate(87.19,87.72) scale(1,1.035)">.05</text><rect x="54.6" y="78.42" width="13.5" height="2.1" stroke="none"/><path transform="translate(71.06,148.39) scale(0.01416,-0.01416)" d="M763 0H583V1147Q518 1085 412.5 1023T223 930V1104Q374 1175 487 1276T647 1472H763Z" stroke-width="24.7"/><text transform="translate(87.19,148.39) scale(1,1.035)">.</text><path transform="translate(95.24,148.39) scale(0.01416,-0.01416)" d="M763 0H583V1147Q518 1085 412.5 1023T223 930V1104Q374 1175 487 1276T647 1472H763Z" stroke-width="24.7"/><text transform="translate(111.37,148.39) scale(1,1.035)">0</text><rect x="54.6" y="139.09" width="13.5" height="2.1" stroke="none"/><path transform="translate(71.06,209.06) scale(0.01416,-0.01416)" d="M763 0H583V1147Q518 1085 412.5 1023T223 930V1104Q374 1175 487 1276T647 1472H763Z" stroke-width="24.7"/><text transform="translate(87.19,209.06) scale(1,1.035)">.</text><path transform="translate(95.24,209.06) scale(0.01416,-0.01416)" d="M763 0H583V1147Q518 1085 412.5 1023T223 930V1104Q374 1175 487 1276T647 1472H763Z" stroke-width="24.7"/><text transform="translate(111.37,209.06) scale(1,1.035)">5</text><rect x="54.6" y="199.76" width="13.5" height="2.1" stroke="none"/><path transform="translate(71.06,269.74) scale(0.01416,-0.01416)" d="M763 0H583V1147Q518 1085 412.5 1023T223 930V1104Q374 1175 487 1276T647 1472H763Z" stroke-width="24.7"/><text transform="translate(87.19,269.74) scale(1,1.035)">.20</text><rect x="54.6" y="260.44" width="13.5" height="2.1" stroke="none"/><path transform="translate(71.06,330.41) scale(0.01416,-0.01416)" d="M763 0H583V1147Q518 1085 412.5 1023T223 930V1104Q374 1175 487 1276T647 1472H763Z" stroke-width="24.7"/><text transform="translate(87.19,330.41) scale(1,1.035)">.25</text><rect x="54.6" y="321.11" width="13.5" height="2.1" stroke="none"/><path transform="translate(71.06,391.08) scale(0.01416,-0.01416)" d="M763 0H583V1147Q518 1085 412.5 1023T223 930V1104Q374 1175 487 1276T647 1472H763Z" stroke-width="24.7"/><text transform="translate(87.19,391.08) scale(1,1.035)">.30</text><rect x="54.6" y="381.78" width="13.5" height="2.1" stroke="none"/><path transform="translate(71.06,451.75) scale(0.01416,-0.01416)" d="M763 0H583V1147Q518 1085 412.5 1023T223 930V1104Q374 1175 487 1276T647 1472H763Z" stroke-width="24.7"/><text transform="translate(87.19,451.75) scale(1,1.035)">.35</text><rect x="54.6" y="442.45" width="13.5" height="2.1" stroke="none"/>
<text transform="translate(109.06,471.40) scale(1,1.035)">0.00</text><path transform="translate(165.51,471.40) scale(0.01416,-0.01416)" d="M763 0H583V1147Q518 1085 412.5 1023T223 930V1104Q374 1175 487 1276T647 1472H763Z" stroke-width="24.7"/><text transform="translate(240.91,471.40) scale(1,1.035)">0.0</text><path transform="translate(281.23,471.40) scale(0.01416,-0.01416)" d="M763 0H583V1147Q518 1085 412.5 1023T223 930V1104Q374 1175 487 1276T647 1472H763Z" stroke-width="24.7"/><text transform="translate(297.36,471.40) scale(1,1.035)">0</text><text transform="translate(372.76,471.40) scale(1,1.035)">0.</text><path transform="translate(396.95,471.40) scale(0.01416,-0.01416)" d="M763 0H583V1147Q518 1085 412.5 1023T223 930V1104Q374 1175 487 1276T647 1472H763Z" stroke-width="24.7"/><text transform="translate(413.08,471.40) scale(1,1.035)">00</text><path transform="translate(532.84,471.40) scale(0.01416,-0.01416)" d="M763 0H583V1147Q518 1085 412.5 1023T223 930V1104Q374 1175 487 1276T647 1472H763Z" stroke-width="24.7"/><path transform="translate(656.62,471.40) scale(0.01416,-0.01416)" d="M763 0H583V1147Q518 1085 412.5 1023T223 930V1104Q374 1175 487 1276T647 1472H763Z" stroke-width="24.7"/><text transform="translate(672.75,471.40) scale(1,1.035)">0</text><path transform="translate(780.41,471.40) scale(0.01416,-0.01416)" d="M763 0H583V1147Q518 1085 412.5 1023T223 930V1104Q374 1175 487 1276T647 1472H763Z" stroke-width="24.7"/><text transform="translate(796.54,471.40) scale(1,1.035)">00</text>
<text x="475.3" y="522" font-size="40px" text-anchor="middle">w</text>
<text transform="translate(36.5,229.5) rotate(-90)" font-size="40px" text-anchor="middle">g(w)</text>
</g>
</svg>
</body></html>
